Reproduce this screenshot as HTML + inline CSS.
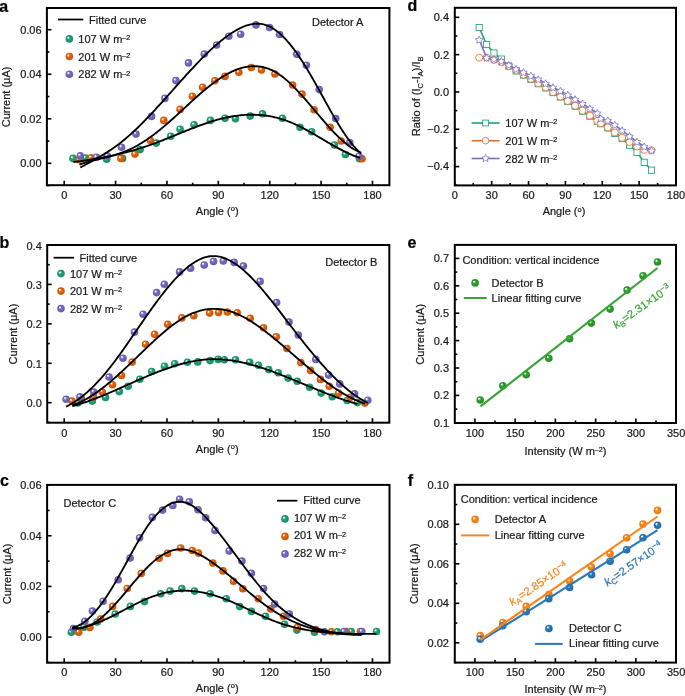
<!DOCTYPE html>
<html><head><meta charset="utf-8"><title>Figure</title>
<style>html,body{margin:0;padding:0;background:#fff;}body{width:685px;height:696px;overflow:hidden;position:relative;font-family:"Liberation Sans", sans-serif;}</style>
</head><body>
<svg width="685" height="696" viewBox="0 0 685 696" style="position:absolute;left:0;top:0;will-change:transform" font-family='"Liberation Sans", sans-serif'><defs><radialGradient id="gG" cx="0.5" cy="0.5" r="0.6" fx="0.33" fy="0.31"><stop offset="0" stop-color="#ffffff"/><stop offset="0.1" stop-color="#ffffff"/><stop offset="0.2" stop-color="#7fd0b2"/><stop offset="0.36" stop-color="#20a074"/><stop offset="1" stop-color="#178a62"/></radialGradient><radialGradient id="gO" cx="0.5" cy="0.5" r="0.6" fx="0.33" fy="0.31"><stop offset="0" stop-color="#ffffff"/><stop offset="0.1" stop-color="#ffffff"/><stop offset="0.2" stop-color="#f2a878"/><stop offset="0.36" stop-color="#e0620e"/><stop offset="1" stop-color="#c85205"/></radialGradient><radialGradient id="gP" cx="0.5" cy="0.5" r="0.6" fx="0.33" fy="0.31"><stop offset="0" stop-color="#ffffff"/><stop offset="0.1" stop-color="#ffffff"/><stop offset="0.2" stop-color="#b6b0e0"/><stop offset="0.36" stop-color="#7469bd"/><stop offset="1" stop-color="#6258ae"/></radialGradient><radialGradient id="gE" cx="0.5" cy="0.5" r="0.6" fx="0.33" fy="0.31"><stop offset="0" stop-color="#ffffff"/><stop offset="0.1" stop-color="#ffffff"/><stop offset="0.2" stop-color="#8fd28f"/><stop offset="0.36" stop-color="#2e9e2e"/><stop offset="1" stop-color="#238a23"/></radialGradient><radialGradient id="gFA" cx="0.5" cy="0.5" r="0.6" fx="0.33" fy="0.31"><stop offset="0" stop-color="#ffffff"/><stop offset="0.1" stop-color="#ffffff"/><stop offset="0.2" stop-color="#fbc088"/><stop offset="0.36" stop-color="#f7861a"/><stop offset="1" stop-color="#e8760c"/></radialGradient><radialGradient id="gFC" cx="0.5" cy="0.5" r="0.6" fx="0.33" fy="0.31"><stop offset="0" stop-color="#ffffff"/><stop offset="0.1" stop-color="#ffffff"/><stop offset="0.2" stop-color="#8fbce0"/><stop offset="0.36" stop-color="#2a78b8"/><stop offset="1" stop-color="#1f68a6"/></radialGradient></defs><rect x="46.90" y="8.00" width="342.50" height="177.20" fill="none" stroke="#000" stroke-width="2"/>
<line x1="64.20" y1="185.20" x2="64.20" y2="180.70" stroke="#000" stroke-width="1.6" />
<line x1="115.58" y1="185.20" x2="115.58" y2="180.70" stroke="#000" stroke-width="1.6" />
<line x1="166.96" y1="185.20" x2="166.96" y2="180.70" stroke="#000" stroke-width="1.6" />
<line x1="218.34" y1="185.20" x2="218.34" y2="180.70" stroke="#000" stroke-width="1.6" />
<line x1="269.72" y1="185.20" x2="269.72" y2="180.70" stroke="#000" stroke-width="1.6" />
<line x1="321.10" y1="185.20" x2="321.10" y2="180.70" stroke="#000" stroke-width="1.6" />
<line x1="372.48" y1="185.20" x2="372.48" y2="180.70" stroke="#000" stroke-width="1.6" />
<line x1="89.89" y1="185.20" x2="89.89" y2="182.70" stroke="#000" stroke-width="1.6" />
<line x1="141.27" y1="185.20" x2="141.27" y2="182.70" stroke="#000" stroke-width="1.6" />
<line x1="192.65" y1="185.20" x2="192.65" y2="182.70" stroke="#000" stroke-width="1.6" />
<line x1="244.03" y1="185.20" x2="244.03" y2="182.70" stroke="#000" stroke-width="1.6" />
<line x1="295.41" y1="185.20" x2="295.41" y2="182.70" stroke="#000" stroke-width="1.6" />
<line x1="346.79" y1="185.20" x2="346.79" y2="182.70" stroke="#000" stroke-width="1.6" />
<text x="64.20" y="199.40" font-size="11" text-anchor="middle" fill="#1a1a1a"  stroke="#1a1a1a" stroke-width="0.22">0</text>
<text x="115.58" y="199.40" font-size="11" text-anchor="middle" fill="#1a1a1a"  stroke="#1a1a1a" stroke-width="0.22">30</text>
<text x="166.96" y="199.40" font-size="11" text-anchor="middle" fill="#1a1a1a"  stroke="#1a1a1a" stroke-width="0.22">60</text>
<text x="218.34" y="199.40" font-size="11" text-anchor="middle" fill="#1a1a1a"  stroke="#1a1a1a" stroke-width="0.22">90</text>
<text x="269.72" y="199.40" font-size="11" text-anchor="middle" fill="#1a1a1a"  stroke="#1a1a1a" stroke-width="0.22">120</text>
<text x="321.10" y="199.40" font-size="11" text-anchor="middle" fill="#1a1a1a"  stroke="#1a1a1a" stroke-width="0.22">150</text>
<text x="372.48" y="199.40" font-size="11" text-anchor="middle" fill="#1a1a1a"  stroke="#1a1a1a" stroke-width="0.22">180</text>
<line x1="46.90" y1="163.30" x2="51.40" y2="163.30" stroke="#000" stroke-width="1.6" />
<line x1="46.90" y1="118.77" x2="51.40" y2="118.77" stroke="#000" stroke-width="1.6" />
<line x1="46.90" y1="74.24" x2="51.40" y2="74.24" stroke="#000" stroke-width="1.6" />
<line x1="46.90" y1="29.71" x2="51.40" y2="29.71" stroke="#000" stroke-width="1.6" />
<line x1="46.90" y1="141.04" x2="49.40" y2="141.04" stroke="#000" stroke-width="1.6" />
<line x1="46.90" y1="96.51" x2="49.40" y2="96.51" stroke="#000" stroke-width="1.6" />
<line x1="46.90" y1="51.98" x2="49.40" y2="51.98" stroke="#000" stroke-width="1.6" />
<line x1="46.90" y1="185.56" x2="49.40" y2="185.56" stroke="#000" stroke-width="1.6" />
<text x="41.60" y="167.20" font-size="11" text-anchor="end" fill="#1a1a1a"  stroke="#1a1a1a" stroke-width="0.22">0.00</text>
<text x="41.60" y="122.67" font-size="11" text-anchor="end" fill="#1a1a1a"  stroke="#1a1a1a" stroke-width="0.22">0.02</text>
<text x="41.60" y="78.14" font-size="11" text-anchor="end" fill="#1a1a1a"  stroke="#1a1a1a" stroke-width="0.22">0.04</text>
<text x="41.60" y="33.61" font-size="11" text-anchor="end" fill="#1a1a1a"  stroke="#1a1a1a" stroke-width="0.22">0.06</text>
<text x="217.20" y="215.20" font-size="11" text-anchor="middle" fill="#1a1a1a"  stroke="#1a1a1a" stroke-width="0.22">Angle (<tspan font-size="7.5" dy="-3.8">o</tspan><tspan dy="3.8">)</tspan></text>
<text x="0" y="0" font-size="11" text-anchor="middle" fill="#1a1a1a" transform="translate(9.90,96.90) rotate(-90)" stroke="#1a1a1a" stroke-width="0.22">Current (μA)</text>
<text x="-0.8" y="11.7" font-size="16" font-weight="bold" fill="#000" stroke="#000" stroke-width="0.22">a</text>
<text x="312.00" y="25.60" font-size="11" text-anchor="start" fill="#1a1a1a"  stroke="#1a1a1a" stroke-width="0.22">Detector A</text>
<line x1="58.00" y1="19.50" x2="83.30" y2="19.50" stroke="#000" stroke-width="1.75" />
<text x="89.00" y="24.20" font-size="11" text-anchor="start" fill="#1a1a1a"  stroke="#1a1a1a" stroke-width="0.22">Fitted curve</text>
<circle cx="69.35" cy="38.90" r="3.8" fill="url(#gG)"/>
<text x="78.30" y="43.00" font-size="11" text-anchor="start" fill="#1a1a1a"  stroke="#1a1a1a" stroke-width="0.22">107 W m<tspan font-size="7.2" dy="-2.7">&#8211;2</tspan></text>
<circle cx="69.35" cy="56.55" r="3.8" fill="url(#gO)"/>
<text x="78.30" y="60.65" font-size="11" text-anchor="start" fill="#1a1a1a"  stroke="#1a1a1a" stroke-width="0.22">201 W m<tspan font-size="7.2" dy="-2.7">&#8211;2</tspan></text>
<circle cx="69.35" cy="74.20" r="3.8" fill="url(#gP)"/>
<text x="78.30" y="78.30" font-size="11" text-anchor="start" fill="#1a1a1a"  stroke="#1a1a1a" stroke-width="0.22">282 W m<tspan font-size="7.2" dy="-2.7">&#8211;2</tspan></text>
<circle cx="73.00" cy="158.40" r="3.8" fill="url(#gG)"/>
<circle cx="85.40" cy="158.00" r="3.8" fill="url(#gG)"/>
<circle cx="106.70" cy="159.20" r="3.8" fill="url(#gG)"/>
<circle cx="122.60" cy="158.40" r="3.8" fill="url(#gG)"/>
<circle cx="140.10" cy="149.60" r="3.8" fill="url(#gG)"/>
<circle cx="156.30" cy="143.10" r="3.8" fill="url(#gG)"/>
<circle cx="170.70" cy="136.20" r="3.8" fill="url(#gG)"/>
<circle cx="180.10" cy="129.20" r="3.8" fill="url(#gG)"/>
<circle cx="194.10" cy="124.80" r="3.8" fill="url(#gG)"/>
<circle cx="210.40" cy="120.40" r="3.8" fill="url(#gG)"/>
<circle cx="225.00" cy="118.20" r="3.8" fill="url(#gG)"/>
<circle cx="235.50" cy="118.70" r="3.8" fill="url(#gG)"/>
<circle cx="250.20" cy="116.10" r="3.8" fill="url(#gG)"/>
<circle cx="262.50" cy="113.80" r="3.8" fill="url(#gG)"/>
<circle cx="282.40" cy="118.20" r="3.8" fill="url(#gG)"/>
<circle cx="300.00" cy="127.30" r="3.8" fill="url(#gG)"/>
<circle cx="311.70" cy="131.70" r="3.8" fill="url(#gG)"/>
<circle cx="334.50" cy="145.10" r="3.8" fill="url(#gG)"/>
<circle cx="345.40" cy="154.50" r="3.8" fill="url(#gG)"/>
<circle cx="359.50" cy="158.70" r="3.8" fill="url(#gG)"/>
<circle cx="78.80" cy="159.70" r="3.8" fill="url(#gO)"/>
<circle cx="91.10" cy="157.80" r="3.8" fill="url(#gO)"/>
<circle cx="120.90" cy="158.40" r="3.8" fill="url(#gO)"/>
<circle cx="134.90" cy="154.10" r="3.8" fill="url(#gO)"/>
<circle cx="150.40" cy="140.60" r="3.8" fill="url(#gO)"/>
<circle cx="163.80" cy="120.40" r="3.8" fill="url(#gO)"/>
<circle cx="180.10" cy="109.40" r="3.8" fill="url(#gO)"/>
<circle cx="192.40" cy="96.30" r="3.8" fill="url(#gO)"/>
<circle cx="202.60" cy="87.20" r="3.8" fill="url(#gO)"/>
<circle cx="214.80" cy="80.80" r="3.8" fill="url(#gO)"/>
<circle cx="225.00" cy="76.40" r="3.8" fill="url(#gO)"/>
<circle cx="238.80" cy="72.30" r="3.8" fill="url(#gO)"/>
<circle cx="251.30" cy="67.50" r="3.8" fill="url(#gO)"/>
<circle cx="261.50" cy="69.90" r="3.8" fill="url(#gO)"/>
<circle cx="274.90" cy="74.00" r="3.8" fill="url(#gO)"/>
<circle cx="292.60" cy="85.00" r="3.8" fill="url(#gO)"/>
<circle cx="302.00" cy="94.10" r="3.8" fill="url(#gO)"/>
<circle cx="314.10" cy="109.80" r="3.8" fill="url(#gO)"/>
<circle cx="330.10" cy="127.30" r="3.8" fill="url(#gO)"/>
<circle cx="341.20" cy="141.00" r="3.8" fill="url(#gO)"/>
<circle cx="362.00" cy="158.80" r="3.8" fill="url(#gO)"/>
<circle cx="80.30" cy="155.90" r="3.8" fill="url(#gP)"/>
<circle cx="96.40" cy="157.30" r="3.8" fill="url(#gP)"/>
<circle cx="107.30" cy="155.70" r="3.8" fill="url(#gP)"/>
<circle cx="121.50" cy="147.30" r="3.8" fill="url(#gP)"/>
<circle cx="136.00" cy="134.10" r="3.8" fill="url(#gP)"/>
<circle cx="151.50" cy="116.40" r="3.8" fill="url(#gP)"/>
<circle cx="164.90" cy="98.40" r="3.8" fill="url(#gP)"/>
<circle cx="175.90" cy="80.60" r="3.8" fill="url(#gP)"/>
<circle cx="188.50" cy="62.90" r="3.8" fill="url(#gP)"/>
<circle cx="204.30" cy="54.10" r="3.8" fill="url(#gP)"/>
<circle cx="216.60" cy="45.00" r="3.8" fill="url(#gP)"/>
<circle cx="228.80" cy="36.30" r="3.8" fill="url(#gP)"/>
<circle cx="240.60" cy="34.20" r="3.8" fill="url(#gP)"/>
<circle cx="256.00" cy="24.90" r="3.8" fill="url(#gP)"/>
<circle cx="269.60" cy="27.50" r="3.8" fill="url(#gP)"/>
<circle cx="279.60" cy="34.50" r="3.8" fill="url(#gP)"/>
<circle cx="296.80" cy="54.30" r="3.8" fill="url(#gP)"/>
<circle cx="306.40" cy="65.20" r="3.8" fill="url(#gP)"/>
<circle cx="319.20" cy="89.60" r="3.8" fill="url(#gP)"/>
<circle cx="335.70" cy="118.50" r="3.8" fill="url(#gP)"/>
<circle cx="349.70" cy="142.50" r="3.8" fill="url(#gP)"/>
<circle cx="359.10" cy="156.30" r="3.8" fill="url(#gP)"/>
<path d="M80.30,167.56 L81.71,166.78 L83.12,166.00 L84.53,165.23 L85.94,164.46 L87.35,163.68 L88.76,162.91 L90.17,162.13 L91.58,161.35 L92.99,160.57 L94.41,159.78 L95.82,158.98 L97.23,158.17 L98.64,157.36 L100.05,156.53 L101.46,155.70 L102.87,154.85 L104.28,153.99 L105.69,153.11 L107.10,152.22 L108.51,151.31 L109.92,150.38 L111.33,149.44 L112.74,148.48 L114.15,147.49 L115.56,146.48 L116.97,145.45 L118.38,144.40 L119.80,143.32 L121.21,142.21 L122.62,141.08 L124.03,139.93 L125.44,138.75 L126.85,137.55 L128.26,136.33 L129.67,135.08 L131.08,133.82 L132.49,132.53 L133.90,131.23 L135.31,129.91 L136.72,128.57 L138.13,127.21 L139.54,125.83 L140.95,124.44 L142.36,123.03 L143.77,121.61 L145.19,120.17 L146.60,118.72 L148.01,117.26 L149.42,115.78 L150.83,114.29 L152.24,112.80 L153.65,111.29 L155.06,109.77 L156.47,108.24 L157.88,106.70 L159.29,105.15 L160.70,103.60 L162.11,102.04 L163.52,100.48 L164.93,98.90 L166.34,97.33 L167.75,95.75 L169.16,94.17 L170.58,92.58 L171.99,90.99 L173.40,89.41 L174.81,87.82 L176.22,86.23 L177.63,84.65 L179.04,83.06 L180.45,81.48 L181.86,79.91 L183.27,78.34 L184.68,76.77 L186.09,75.21 L187.50,73.66 L188.91,72.11 L190.32,70.58 L191.73,69.05 L193.14,67.54 L194.55,66.03 L195.97,64.54 L197.38,63.06 L198.79,61.59 L200.20,60.13 L201.61,58.70 L203.02,57.27 L204.43,55.87 L205.84,54.48 L207.25,53.11 L208.66,51.75 L210.07,50.42 L211.48,49.11 L212.89,47.82 L214.30,46.55 L215.71,45.30 L217.12,44.08 L218.53,42.88 L219.94,41.71 L221.36,40.56 L222.77,39.44 L224.18,38.34 L225.59,37.28 L227.00,36.24 L228.41,35.24 L229.82,34.26 L231.23,33.32 L232.64,32.40 L234.05,31.53 L235.46,30.68 L236.87,29.88 L238.28,29.12 L239.69,28.39 L241.10,27.72 L242.51,27.09 L243.92,26.50 L245.33,25.97 L246.75,25.49 L248.16,25.06 L249.57,24.68 L250.98,24.37 L252.39,24.12 L253.80,23.92 L255.21,23.79 L256.62,23.73 L258.03,23.73 L259.44,23.81 L260.85,23.95 L262.26,24.17 L263.67,24.47 L265.08,24.84 L266.49,25.29 L267.90,25.82 L269.31,26.44 L270.72,27.14 L272.14,27.93 L273.55,28.79 L274.96,29.74 L276.37,30.76 L277.78,31.86 L279.19,33.03 L280.60,34.27 L282.01,35.59 L283.42,36.98 L284.83,38.43 L286.24,39.95 L287.65,41.54 L289.06,43.18 L290.47,44.89 L291.88,46.66 L293.29,48.49 L294.70,50.38 L296.11,52.32 L297.53,54.31 L298.94,56.36 L300.35,58.45 L301.76,60.59 L303.17,62.79 L304.58,65.02 L305.99,67.30 L307.40,69.62 L308.81,71.99 L310.22,74.38 L311.63,76.81 L313.04,79.27 L314.45,81.76 L315.86,84.26 L317.27,86.79 L318.68,89.32 L320.09,91.87 L321.50,94.43 L322.92,96.98 L324.33,99.54 L325.74,102.09 L327.15,104.63 L328.56,107.16 L329.97,109.68 L331.38,112.17 L332.79,114.64 L334.20,117.08 L335.61,119.50 L337.02,121.88 L338.43,124.21 L339.84,126.51 L341.25,128.76 L342.66,130.97 L344.07,133.11 L345.48,135.21 L346.89,137.24 L348.31,139.20 L349.72,141.10 L351.13,142.93 L352.54,144.68 L353.95,146.35 L355.36,147.93 L356.77,149.43 L358.18,150.84 L359.59,152.16 L361.00,153.38" fill="none" stroke="#000" stroke-width="1.85" stroke-linejoin="round" stroke-linecap="butt"/>
<path d="M79.40,164.66 L80.82,164.16 L82.23,163.68 L83.65,163.22 L85.06,162.77 L86.48,162.35 L87.89,161.94 L89.31,161.54 L90.72,161.15 L92.14,160.78 L93.55,160.41 L94.97,160.05 L96.38,159.70 L97.80,159.35 L99.21,159.01 L100.63,158.67 L102.04,158.32 L103.46,157.98 L104.87,157.63 L106.29,157.28 L107.70,156.92 L109.12,156.56 L110.53,156.18 L111.95,155.80 L113.36,155.40 L114.78,154.99 L116.19,154.56 L117.61,154.12 L119.02,153.66 L120.44,153.18 L121.85,152.68 L123.27,152.15 L124.68,151.61 L126.10,151.03 L127.51,150.43 L128.93,149.80 L130.34,149.15 L131.76,148.46 L133.17,147.75 L134.59,147.01 L136.00,146.25 L137.42,145.45 L138.83,144.64 L140.25,143.80 L141.66,142.93 L143.08,142.04 L144.49,141.13 L145.91,140.19 L147.32,139.23 L148.74,138.25 L150.15,137.25 L151.57,136.23 L152.98,135.18 L154.40,134.12 L155.81,133.04 L157.23,131.94 L158.64,130.81 L160.06,129.67 L161.47,128.52 L162.89,127.34 L164.30,126.15 L165.72,124.95 L167.13,123.72 L168.55,122.49 L169.96,121.24 L171.38,119.99 L172.79,118.72 L174.21,117.44 L175.63,116.16 L177.04,114.87 L178.46,113.58 L179.87,112.28 L181.29,110.97 L182.70,109.67 L184.12,108.36 L185.53,107.06 L186.95,105.75 L188.36,104.45 L189.78,103.15 L191.19,101.86 L192.61,100.57 L194.02,99.29 L195.44,98.02 L196.85,96.76 L198.27,95.50 L199.68,94.26 L201.10,93.03 L202.51,91.82 L203.93,90.62 L205.34,89.44 L206.76,88.27 L208.17,87.12 L209.59,85.99 L211.00,84.88 L212.42,83.79 L213.83,82.73 L215.25,81.69 L216.66,80.67 L218.08,79.68 L219.49,78.72 L220.91,77.78 L222.32,76.88 L223.74,76.00 L225.15,75.16 L226.57,74.35 L227.98,73.57 L229.40,72.83 L230.81,72.12 L232.23,71.45 L233.64,70.82 L235.06,70.22 L236.47,69.66 L237.89,69.14 L239.30,68.66 L240.72,68.22 L242.13,67.83 L243.55,67.47 L244.96,67.15 L246.38,66.88 L247.79,66.66 L249.21,66.47 L250.62,66.33 L252.04,66.24 L253.45,66.20 L254.87,66.20 L256.28,66.25 L257.70,66.35 L259.11,66.50 L260.53,66.70 L261.94,66.95 L263.36,67.25 L264.77,67.61 L266.19,68.01 L267.61,68.48 L269.02,68.99 L270.44,69.56 L271.85,70.19 L273.27,70.87 L274.68,71.62 L276.10,72.42 L277.51,73.28 L278.93,74.19 L280.34,75.17 L281.76,76.20 L283.17,77.28 L284.59,78.42 L286.00,79.60 L287.42,80.83 L288.83,82.10 L290.25,83.41 L291.66,84.77 L293.08,86.16 L294.49,87.58 L295.91,89.04 L297.32,90.53 L298.74,92.04 L300.15,93.59 L301.57,95.15 L302.98,96.74 L304.40,98.35 L305.81,99.97 L307.23,101.61 L308.64,103.26 L310.06,104.92 L311.47,106.59 L312.89,108.27 L314.30,109.94 L315.72,111.62 L317.13,113.30 L318.55,114.98 L319.96,116.65 L321.38,118.31 L322.79,119.96 L324.21,121.60 L325.62,123.22 L327.04,124.83 L328.45,126.42 L329.87,127.99 L331.28,129.53 L332.70,131.05 L334.11,132.54 L335.53,134.01 L336.94,135.43 L338.36,136.83 L339.77,138.18 L341.19,139.50 L342.60,140.78 L344.02,142.01 L345.43,143.20 L346.85,144.33 L348.26,145.42 L349.68,146.46 L351.09,147.44 L352.51,148.36 L353.92,149.22 L355.34,150.03 L356.75,150.77 L358.17,151.44 L359.58,152.04 L361.00,152.57" fill="none" stroke="#000" stroke-width="1.85" stroke-linejoin="round" stroke-linecap="butt"/>
<path d="M73.30,162.04 L74.74,161.87 L76.18,161.70 L77.62,161.53 L79.06,161.35 L80.51,161.16 L81.95,160.97 L83.39,160.78 L84.83,160.58 L86.27,160.37 L87.71,160.16 L89.15,159.94 L90.59,159.72 L92.04,159.49 L93.48,159.26 L94.92,159.02 L96.36,158.77 L97.80,158.52 L99.24,158.26 L100.68,158.00 L102.12,157.73 L103.57,157.45 L105.01,157.17 L106.45,156.88 L107.89,156.59 L109.33,156.29 L110.77,155.98 L112.21,155.67 L113.65,155.35 L115.09,155.02 L116.54,154.69 L117.98,154.35 L119.42,154.01 L120.86,153.65 L122.30,153.29 L123.74,152.93 L125.18,152.56 L126.62,152.18 L128.07,151.79 L129.51,151.39 L130.95,150.99 L132.39,150.59 L133.83,150.17 L135.27,149.75 L136.71,149.32 L138.15,148.88 L139.60,148.43 L141.04,147.98 L142.48,147.52 L143.92,147.05 L145.36,146.58 L146.80,146.10 L148.24,145.61 L149.68,145.11 L151.13,144.60 L152.57,144.09 L154.01,143.56 L155.45,143.03 L156.89,142.50 L158.33,141.95 L159.77,141.40 L161.21,140.85 L162.65,140.28 L164.10,139.72 L165.54,139.14 L166.98,138.57 L168.42,137.99 L169.86,137.41 L171.30,136.82 L172.74,136.23 L174.18,135.64 L175.63,135.06 L177.07,134.47 L178.51,133.87 L179.95,133.29 L181.39,132.70 L182.83,132.11 L184.27,131.52 L185.71,130.94 L187.16,130.36 L188.60,129.78 L190.04,129.21 L191.48,128.64 L192.92,128.08 L194.36,127.52 L195.80,126.97 L197.24,126.42 L198.68,125.88 L200.13,125.35 L201.57,124.82 L203.01,124.31 L204.45,123.80 L205.89,123.30 L207.33,122.82 L208.77,122.34 L210.21,121.87 L211.66,121.42 L213.10,120.97 L214.54,120.54 L215.98,120.12 L217.42,119.71 L218.86,119.32 L220.30,118.95 L221.74,118.58 L223.19,118.23 L224.63,117.90 L226.07,117.58 L227.51,117.28 L228.95,116.99 L230.39,116.72 L231.83,116.47 L233.27,116.23 L234.72,116.01 L236.16,115.80 L237.60,115.61 L239.04,115.44 L240.48,115.29 L241.92,115.15 L243.36,115.03 L244.80,114.93 L246.24,114.85 L247.69,114.79 L249.13,114.74 L250.57,114.71 L252.01,114.71 L253.45,114.72 L254.89,114.75 L256.33,114.80 L257.77,114.87 L259.22,114.96 L260.66,115.07 L262.10,115.20 L263.54,115.35 L264.98,115.52 L266.42,115.72 L267.86,115.93 L269.30,116.17 L270.75,116.42 L272.19,116.70 L273.63,117.01 L275.07,117.33 L276.51,117.68 L277.95,118.04 L279.39,118.44 L280.83,118.85 L282.27,119.29 L283.72,119.75 L285.16,120.24 L286.60,120.75 L288.04,121.28 L289.48,121.84 L290.92,122.42 L292.36,123.02 L293.80,123.65 L295.25,124.30 L296.69,124.97 L298.13,125.66 L299.57,126.37 L301.01,127.10 L302.45,127.84 L303.89,128.60 L305.33,129.37 L306.78,130.15 L308.22,130.95 L309.66,131.75 L311.10,132.57 L312.54,133.39 L313.98,134.22 L315.42,135.06 L316.86,135.90 L318.31,136.75 L319.75,137.60 L321.19,138.45 L322.63,139.30 L324.07,140.15 L325.51,141.00 L326.95,141.84 L328.39,142.68 L329.83,143.52 L331.28,144.35 L332.72,145.17 L334.16,145.99 L335.60,146.79 L337.04,147.59 L338.48,148.37 L339.92,149.14 L341.36,149.90 L342.81,150.64 L344.25,151.36 L345.69,152.07 L347.13,152.76 L348.57,153.43 L350.01,154.08 L351.45,154.71 L352.89,155.31 L354.34,155.89 L355.78,156.45 L357.22,156.98 L358.66,157.48 L360.10,157.96" fill="none" stroke="#000" stroke-width="1.85" stroke-linejoin="round" stroke-linecap="butt"/>
<rect x="47.20" y="245.00" width="342.10" height="177.70" fill="none" stroke="#000" stroke-width="2"/>
<line x1="64.20" y1="422.70" x2="64.20" y2="418.20" stroke="#000" stroke-width="1.6" />
<line x1="115.58" y1="422.70" x2="115.58" y2="418.20" stroke="#000" stroke-width="1.6" />
<line x1="166.96" y1="422.70" x2="166.96" y2="418.20" stroke="#000" stroke-width="1.6" />
<line x1="218.34" y1="422.70" x2="218.34" y2="418.20" stroke="#000" stroke-width="1.6" />
<line x1="269.72" y1="422.70" x2="269.72" y2="418.20" stroke="#000" stroke-width="1.6" />
<line x1="321.10" y1="422.70" x2="321.10" y2="418.20" stroke="#000" stroke-width="1.6" />
<line x1="372.48" y1="422.70" x2="372.48" y2="418.20" stroke="#000" stroke-width="1.6" />
<line x1="89.89" y1="422.70" x2="89.89" y2="420.20" stroke="#000" stroke-width="1.6" />
<line x1="141.27" y1="422.70" x2="141.27" y2="420.20" stroke="#000" stroke-width="1.6" />
<line x1="192.65" y1="422.70" x2="192.65" y2="420.20" stroke="#000" stroke-width="1.6" />
<line x1="244.03" y1="422.70" x2="244.03" y2="420.20" stroke="#000" stroke-width="1.6" />
<line x1="295.41" y1="422.70" x2="295.41" y2="420.20" stroke="#000" stroke-width="1.6" />
<line x1="346.79" y1="422.70" x2="346.79" y2="420.20" stroke="#000" stroke-width="1.6" />
<text x="64.20" y="437.20" font-size="11" text-anchor="middle" fill="#1a1a1a"  stroke="#1a1a1a" stroke-width="0.22">0</text>
<text x="115.58" y="437.20" font-size="11" text-anchor="middle" fill="#1a1a1a"  stroke="#1a1a1a" stroke-width="0.22">30</text>
<text x="166.96" y="437.20" font-size="11" text-anchor="middle" fill="#1a1a1a"  stroke="#1a1a1a" stroke-width="0.22">60</text>
<text x="218.34" y="437.20" font-size="11" text-anchor="middle" fill="#1a1a1a"  stroke="#1a1a1a" stroke-width="0.22">90</text>
<text x="269.72" y="437.20" font-size="11" text-anchor="middle" fill="#1a1a1a"  stroke="#1a1a1a" stroke-width="0.22">120</text>
<text x="321.10" y="437.20" font-size="11" text-anchor="middle" fill="#1a1a1a"  stroke="#1a1a1a" stroke-width="0.22">150</text>
<text x="372.48" y="437.20" font-size="11" text-anchor="middle" fill="#1a1a1a"  stroke="#1a1a1a" stroke-width="0.22">180</text>
<line x1="47.20" y1="402.70" x2="51.70" y2="402.70" stroke="#000" stroke-width="1.6" />
<line x1="47.20" y1="363.27" x2="51.70" y2="363.27" stroke="#000" stroke-width="1.6" />
<line x1="47.20" y1="323.84" x2="51.70" y2="323.84" stroke="#000" stroke-width="1.6" />
<line x1="47.20" y1="284.41" x2="51.70" y2="284.41" stroke="#000" stroke-width="1.6" />
<line x1="47.20" y1="244.98" x2="51.70" y2="244.98" stroke="#000" stroke-width="1.6" />
<line x1="47.20" y1="382.99" x2="49.70" y2="382.99" stroke="#000" stroke-width="1.6" />
<line x1="47.20" y1="343.56" x2="49.70" y2="343.56" stroke="#000" stroke-width="1.6" />
<line x1="47.20" y1="304.12" x2="49.70" y2="304.12" stroke="#000" stroke-width="1.6" />
<line x1="47.20" y1="264.69" x2="49.70" y2="264.69" stroke="#000" stroke-width="1.6" />
<line x1="47.20" y1="422.41" x2="49.70" y2="422.41" stroke="#000" stroke-width="1.6" />
<text x="41.80" y="407.30" font-size="11" text-anchor="end" fill="#1a1a1a"  stroke="#1a1a1a" stroke-width="0.22">0.0</text>
<text x="41.80" y="367.87" font-size="11" text-anchor="end" fill="#1a1a1a"  stroke="#1a1a1a" stroke-width="0.22">0.1</text>
<text x="41.80" y="328.44" font-size="11" text-anchor="end" fill="#1a1a1a"  stroke="#1a1a1a" stroke-width="0.22">0.2</text>
<text x="41.80" y="289.01" font-size="11" text-anchor="end" fill="#1a1a1a"  stroke="#1a1a1a" stroke-width="0.22">0.3</text>
<text x="41.80" y="249.58" font-size="11" text-anchor="end" fill="#1a1a1a"  stroke="#1a1a1a" stroke-width="0.22">0.4</text>
<text x="217.20" y="453.00" font-size="11" text-anchor="middle" fill="#1a1a1a"  stroke="#1a1a1a" stroke-width="0.22">Angle (<tspan font-size="7.5" dy="-3.8">o</tspan><tspan dy="3.8">)</tspan></text>
<text x="0" y="0" font-size="11" text-anchor="middle" fill="#1a1a1a" transform="translate(16.70,334.00) rotate(-90)" stroke="#1a1a1a" stroke-width="0.22">Current (μA)</text>
<text x="-0.6" y="248.2" font-size="16" font-weight="bold" fill="#000" stroke="#000" stroke-width="0.22">b</text>
<text x="325.30" y="265.70" font-size="11" text-anchor="start" fill="#1a1a1a"  stroke="#1a1a1a" stroke-width="0.22">Detector B</text>
<line x1="53.60" y1="257.70" x2="74.10" y2="257.70" stroke="#000" stroke-width="1.75" />
<text x="79.60" y="261.60" font-size="11" text-anchor="start" fill="#1a1a1a"  stroke="#1a1a1a" stroke-width="0.22">Fitted curve</text>
<circle cx="61.00" cy="273.60" r="3.8" fill="url(#gG)"/>
<text x="69.90" y="277.60" font-size="11" text-anchor="start" fill="#1a1a1a"  stroke="#1a1a1a" stroke-width="0.22">107 W m<tspan font-size="7.2" dy="-2.7">&#8211;2</tspan></text>
<circle cx="61.00" cy="291.10" r="3.8" fill="url(#gO)"/>
<text x="69.90" y="295.10" font-size="11" text-anchor="start" fill="#1a1a1a"  stroke="#1a1a1a" stroke-width="0.22">201 W m<tspan font-size="7.2" dy="-2.7">&#8211;2</tspan></text>
<circle cx="61.00" cy="308.60" r="3.8" fill="url(#gP)"/>
<text x="69.90" y="312.60" font-size="11" text-anchor="start" fill="#1a1a1a"  stroke="#1a1a1a" stroke-width="0.22">282 W m<tspan font-size="7.2" dy="-2.7">&#8211;2</tspan></text>
<circle cx="77.70" cy="403.00" r="3.8" fill="url(#gG)"/>
<circle cx="92.30" cy="401.10" r="3.8" fill="url(#gG)"/>
<circle cx="105.50" cy="397.40" r="3.8" fill="url(#gG)"/>
<circle cx="119.30" cy="391.60" r="3.8" fill="url(#gG)"/>
<circle cx="128.10" cy="386.20" r="3.8" fill="url(#gG)"/>
<circle cx="139.80" cy="379.20" r="3.8" fill="url(#gG)"/>
<circle cx="151.70" cy="371.50" r="3.8" fill="url(#gG)"/>
<circle cx="164.50" cy="366.40" r="3.8" fill="url(#gG)"/>
<circle cx="174.70" cy="363.80" r="3.8" fill="url(#gG)"/>
<circle cx="187.40" cy="362.30" r="3.8" fill="url(#gG)"/>
<circle cx="197.70" cy="361.90" r="3.8" fill="url(#gG)"/>
<circle cx="210.10" cy="360.60" r="3.8" fill="url(#gG)"/>
<circle cx="218.10" cy="359.40" r="3.8" fill="url(#gG)"/>
<circle cx="224.40" cy="359.70" r="3.8" fill="url(#gG)"/>
<circle cx="235.50" cy="359.70" r="3.8" fill="url(#gG)"/>
<circle cx="249.70" cy="362.30" r="3.8" fill="url(#gG)"/>
<circle cx="258.50" cy="365.30" r="3.8" fill="url(#gG)"/>
<circle cx="268.70" cy="369.60" r="3.8" fill="url(#gG)"/>
<circle cx="278.20" cy="372.80" r="3.8" fill="url(#gG)"/>
<circle cx="288.10" cy="378.10" r="3.8" fill="url(#gG)"/>
<circle cx="297.20" cy="381.30" r="3.8" fill="url(#gG)"/>
<circle cx="309.60" cy="387.20" r="3.8" fill="url(#gG)"/>
<circle cx="321.20" cy="393.10" r="3.8" fill="url(#gG)"/>
<circle cx="332.20" cy="396.70" r="3.8" fill="url(#gG)"/>
<circle cx="347.10" cy="400.50" r="3.8" fill="url(#gG)"/>
<circle cx="357.30" cy="402.60" r="3.8" fill="url(#gG)"/>
<circle cx="71.90" cy="401.10" r="3.8" fill="url(#gO)"/>
<circle cx="81.40" cy="398.30" r="3.8" fill="url(#gO)"/>
<circle cx="93.40" cy="396.90" r="3.8" fill="url(#gO)"/>
<circle cx="102.30" cy="392.00" r="3.8" fill="url(#gO)"/>
<circle cx="112.50" cy="384.70" r="3.8" fill="url(#gO)"/>
<circle cx="121.50" cy="375.50" r="3.8" fill="url(#gO)"/>
<circle cx="132.20" cy="362.10" r="3.8" fill="url(#gO)"/>
<circle cx="145.60" cy="344.20" r="3.8" fill="url(#gO)"/>
<circle cx="154.60" cy="334.30" r="3.8" fill="url(#gO)"/>
<circle cx="167.70" cy="324.30" r="3.8" fill="url(#gO)"/>
<circle cx="181.80" cy="317.90" r="3.8" fill="url(#gO)"/>
<circle cx="193.80" cy="315.70" r="3.8" fill="url(#gO)"/>
<circle cx="209.60" cy="313.10" r="3.8" fill="url(#gO)"/>
<circle cx="218.60" cy="312.50" r="3.8" fill="url(#gO)"/>
<circle cx="227.40" cy="312.00" r="3.8" fill="url(#gO)"/>
<circle cx="237.20" cy="312.80" r="3.8" fill="url(#gO)"/>
<circle cx="250.20" cy="318.30" r="3.8" fill="url(#gO)"/>
<circle cx="263.50" cy="327.70" r="3.8" fill="url(#gO)"/>
<circle cx="276.30" cy="336.80" r="3.8" fill="url(#gO)"/>
<circle cx="286.90" cy="348.50" r="3.8" fill="url(#gO)"/>
<circle cx="300.80" cy="362.60" r="3.8" fill="url(#gO)"/>
<circle cx="310.60" cy="370.40" r="3.8" fill="url(#gO)"/>
<circle cx="320.50" cy="379.40" r="3.8" fill="url(#gO)"/>
<circle cx="329.30" cy="386.20" r="3.8" fill="url(#gO)"/>
<circle cx="338.60" cy="393.20" r="3.8" fill="url(#gO)"/>
<circle cx="350.30" cy="397.30" r="3.8" fill="url(#gO)"/>
<circle cx="364.90" cy="403.10" r="3.8" fill="url(#gO)"/>
<circle cx="66.10" cy="399.30" r="3.8" fill="url(#gP)"/>
<circle cx="79.90" cy="396.90" r="3.8" fill="url(#gP)"/>
<circle cx="93.80" cy="392.00" r="3.8" fill="url(#gP)"/>
<circle cx="109.10" cy="377.00" r="3.8" fill="url(#gP)"/>
<circle cx="123.00" cy="358.20" r="3.8" fill="url(#gP)"/>
<circle cx="134.50" cy="332.10" r="3.8" fill="url(#gP)"/>
<circle cx="143.10" cy="314.20" r="3.8" fill="url(#gP)"/>
<circle cx="156.60" cy="292.60" r="3.8" fill="url(#gP)"/>
<circle cx="164.30" cy="284.30" r="3.8" fill="url(#gP)"/>
<circle cx="179.60" cy="271.90" r="3.8" fill="url(#gP)"/>
<circle cx="190.60" cy="268.20" r="3.8" fill="url(#gP)"/>
<circle cx="204.20" cy="265.00" r="3.8" fill="url(#gP)"/>
<circle cx="213.50" cy="261.40" r="3.8" fill="url(#gP)"/>
<circle cx="223.30" cy="261.00" r="3.8" fill="url(#gP)"/>
<circle cx="234.20" cy="262.40" r="3.8" fill="url(#gP)"/>
<circle cx="243.40" cy="266.10" r="3.8" fill="url(#gP)"/>
<circle cx="260.10" cy="281.40" r="3.8" fill="url(#gP)"/>
<circle cx="276.60" cy="302.60" r="3.8" fill="url(#gP)"/>
<circle cx="289.00" cy="322.00" r="3.8" fill="url(#gP)"/>
<circle cx="298.30" cy="335.00" r="3.8" fill="url(#gP)"/>
<circle cx="315.80" cy="359.40" r="3.8" fill="url(#gP)"/>
<circle cx="328.70" cy="375.10" r="3.8" fill="url(#gP)"/>
<circle cx="339.80" cy="383.90" r="3.8" fill="url(#gP)"/>
<circle cx="354.60" cy="393.80" r="3.8" fill="url(#gP)"/>
<circle cx="367.80" cy="400.20" r="3.8" fill="url(#gP)"/>
<path d="M66.10,406.55 L67.62,405.83 L69.13,405.06 L70.65,404.24 L72.16,403.37 L73.68,402.45 L75.20,401.48 L76.71,400.47 L78.23,399.41 L79.74,398.30 L81.26,397.14 L82.78,395.94 L84.29,394.70 L85.81,393.41 L87.33,392.08 L88.84,390.71 L90.36,389.29 L91.87,387.84 L93.39,386.34 L94.91,384.80 L96.42,383.23 L97.94,381.61 L99.45,379.96 L100.97,378.27 L102.49,376.54 L104.00,374.78 L105.52,372.98 L107.03,371.14 L108.55,369.28 L110.07,367.38 L111.58,365.44 L113.10,363.47 L114.61,361.48 L116.13,359.45 L117.65,357.40 L119.16,355.32 L120.68,353.22 L122.19,351.10 L123.71,348.96 L125.23,346.80 L126.74,344.63 L128.26,342.45 L129.78,340.26 L131.29,338.06 L132.81,335.85 L134.32,333.64 L135.84,331.43 L137.36,329.22 L138.87,327.01 L140.39,324.81 L141.90,322.61 L143.42,320.42 L144.94,318.23 L146.45,316.06 L147.97,313.90 L149.48,311.75 L151.00,309.62 L152.52,307.50 L154.03,305.40 L155.55,303.33 L157.06,301.27 L158.58,299.24 L160.10,297.24 L161.61,295.26 L163.13,293.31 L164.65,291.39 L166.16,289.50 L167.68,287.65 L169.19,285.83 L170.71,284.05 L172.23,282.31 L173.74,280.61 L175.26,278.95 L176.77,277.34 L178.29,275.77 L179.81,274.24 L181.32,272.77 L182.84,271.35 L184.35,269.97 L185.87,268.66 L187.39,267.40 L188.90,266.19 L190.42,265.04 L191.93,263.96 L193.45,262.94 L194.97,261.98 L196.48,261.08 L198.00,260.26 L199.52,259.50 L201.03,258.81 L202.55,258.20 L204.06,257.66 L205.58,257.19 L207.10,256.80 L208.61,256.49 L210.13,256.26 L211.64,256.12 L213.16,256.06 L214.68,256.08 L216.19,256.18 L217.71,256.37 L219.22,256.63 L220.74,256.97 L222.26,257.38 L223.77,257.87 L225.29,258.44 L226.80,259.07 L228.32,259.77 L229.84,260.53 L231.35,261.36 L232.87,262.26 L234.38,263.21 L235.90,264.23 L237.42,265.30 L238.93,266.43 L240.45,267.61 L241.97,268.85 L243.48,270.13 L245.00,271.47 L246.51,272.85 L248.03,274.28 L249.55,275.75 L251.06,277.26 L252.58,278.81 L254.09,280.41 L255.61,282.03 L257.13,283.70 L258.64,285.39 L260.16,287.12 L261.67,288.88 L263.19,290.67 L264.71,292.48 L266.22,294.31 L267.74,296.17 L269.25,298.05 L270.77,299.95 L272.29,301.87 L273.80,303.80 L275.32,305.74 L276.84,307.70 L278.35,309.67 L279.87,311.64 L281.38,313.63 L282.90,315.62 L284.42,317.61 L285.93,319.60 L287.45,321.59 L288.96,323.58 L290.48,325.57 L292.00,327.55 L293.51,329.53 L295.03,331.49 L296.54,333.45 L298.06,335.40 L299.58,337.34 L301.09,339.27 L302.61,341.19 L304.12,343.10 L305.64,344.99 L307.16,346.87 L308.67,348.74 L310.19,350.59 L311.71,352.43 L313.22,354.25 L314.74,356.06 L316.25,357.84 L317.77,359.61 L319.29,361.36 L320.80,363.09 L322.32,364.80 L323.83,366.48 L325.35,368.15 L326.87,369.79 L328.38,371.41 L329.90,373.00 L331.41,374.57 L332.93,376.12 L334.45,377.64 L335.96,379.13 L337.48,380.59 L338.99,382.03 L340.51,383.43 L342.03,384.81 L343.54,386.15 L345.06,387.47 L346.57,388.75 L348.09,390.00 L349.61,391.21 L351.12,392.39 L352.64,393.54 L354.16,394.65 L355.67,395.72 L357.19,396.76 L358.70,397.76 L360.22,398.72 L361.74,399.64 L363.25,400.52 L364.77,401.36 L366.28,402.16 L367.80,402.92" fill="none" stroke="#000" stroke-width="1.85" stroke-linejoin="round" stroke-linecap="butt"/>
<path d="M72.30,405.21 L73.77,404.73 L75.24,404.21 L76.71,403.65 L78.18,403.05 L79.65,402.41 L81.13,401.73 L82.60,401.01 L84.07,400.26 L85.54,399.47 L87.01,398.65 L88.48,397.79 L89.95,396.90 L91.42,395.98 L92.89,395.03 L94.36,394.05 L95.83,393.04 L97.30,392.01 L98.78,390.94 L100.25,389.86 L101.72,388.74 L103.19,387.60 L104.66,386.44 L106.13,385.26 L107.60,384.06 L109.07,382.83 L110.54,381.59 L112.01,380.33 L113.48,379.05 L114.95,377.76 L116.43,376.45 L117.90,375.13 L119.37,373.79 L120.84,372.44 L122.31,371.08 L123.78,369.71 L125.25,368.33 L126.72,366.94 L128.19,365.55 L129.66,364.14 L131.13,362.74 L132.61,361.32 L134.08,359.91 L135.55,358.49 L137.02,357.07 L138.49,355.65 L139.96,354.23 L141.43,352.81 L142.90,351.39 L144.37,349.98 L145.84,348.57 L147.31,347.17 L148.78,345.77 L150.26,344.38 L151.73,343.00 L153.20,341.63 L154.67,340.27 L156.14,338.92 L157.61,337.59 L159.08,336.27 L160.55,334.97 L162.02,333.69 L163.49,332.43 L164.96,331.19 L166.43,329.97 L167.91,328.77 L169.38,327.59 L170.85,326.45 L172.32,325.33 L173.79,324.23 L175.26,323.17 L176.73,322.14 L178.20,321.14 L179.67,320.17 L181.14,319.23 L182.61,318.34 L184.08,317.47 L185.56,316.65 L187.03,315.87 L188.50,315.12 L189.97,314.42 L191.44,313.76 L192.91,313.14 L194.38,312.56 L195.85,312.03 L197.32,311.53 L198.79,311.08 L200.26,310.67 L201.74,310.29 L203.21,309.97 L204.68,309.68 L206.15,309.43 L207.62,309.23 L209.09,309.07 L210.56,308.95 L212.03,308.87 L213.50,308.83 L214.97,308.84 L216.44,308.89 L217.91,308.98 L219.39,309.11 L220.86,309.28 L222.33,309.50 L223.80,309.76 L225.27,310.06 L226.74,310.41 L228.21,310.79 L229.68,311.22 L231.15,311.68 L232.62,312.19 L234.09,312.73 L235.56,313.31 L237.04,313.92 L238.51,314.57 L239.98,315.26 L241.45,315.97 L242.92,316.72 L244.39,317.50 L245.86,318.31 L247.33,319.15 L248.80,320.01 L250.27,320.91 L251.74,321.83 L253.22,322.77 L254.69,323.74 L256.16,324.74 L257.63,325.75 L259.10,326.79 L260.57,327.85 L262.04,328.92 L263.51,330.02 L264.98,331.13 L266.45,332.26 L267.92,333.41 L269.39,334.57 L270.87,335.75 L272.34,336.94 L273.81,338.14 L275.28,339.35 L276.75,340.57 L278.22,341.80 L279.69,343.04 L281.16,344.29 L282.63,345.54 L284.10,346.80 L285.57,348.07 L287.04,349.33 L288.52,350.60 L289.99,351.88 L291.46,353.15 L292.93,354.42 L294.40,355.70 L295.87,356.97 L297.34,358.25 L298.81,359.52 L300.28,360.79 L301.75,362.05 L303.22,363.32 L304.69,364.57 L306.17,365.83 L307.64,367.07 L309.11,368.31 L310.58,369.54 L312.05,370.76 L313.52,371.98 L314.99,373.18 L316.46,374.38 L317.93,375.56 L319.40,376.74 L320.87,377.90 L322.35,379.04 L323.82,380.18 L325.29,381.29 L326.76,382.40 L328.23,383.49 L329.70,384.56 L331.17,385.61 L332.64,386.65 L334.11,387.67 L335.58,388.67 L337.05,389.64 L338.52,390.60 L340.00,391.54 L341.47,392.45 L342.94,393.34 L344.41,394.21 L345.88,395.06 L347.35,395.88 L348.82,396.67 L350.29,397.44 L351.76,398.18 L353.23,398.89 L354.70,399.58 L356.17,400.23 L357.65,400.86 L359.12,401.46 L360.59,402.02 L362.06,402.55 L363.53,403.05 L365.00,403.52" fill="none" stroke="#000" stroke-width="1.85" stroke-linejoin="round" stroke-linecap="butt"/>
<path d="M72.30,406.22 L73.73,405.83 L75.17,405.42 L76.60,405.00 L78.03,404.57 L79.47,404.13 L80.90,403.68 L82.33,403.22 L83.77,402.74 L85.20,402.25 L86.63,401.76 L88.06,401.25 L89.50,400.74 L90.93,400.21 L92.36,399.68 L93.80,399.14 L95.23,398.59 L96.66,398.03 L98.10,397.47 L99.53,396.90 L100.96,396.32 L102.40,395.74 L103.83,395.14 L105.26,394.55 L106.70,393.95 L108.13,393.34 L109.56,392.73 L111.00,392.12 L112.43,391.50 L113.86,390.87 L115.29,390.25 L116.73,389.62 L118.16,388.99 L119.59,388.35 L121.03,387.72 L122.46,387.08 L123.89,386.45 L125.33,385.81 L126.76,385.17 L128.19,384.53 L129.63,383.89 L131.06,383.25 L132.49,382.61 L133.93,381.98 L135.36,381.34 L136.79,380.71 L138.23,380.08 L139.66,379.46 L141.09,378.83 L142.53,378.21 L143.96,377.59 L145.39,376.98 L146.82,376.37 L148.26,375.77 L149.69,375.17 L151.12,374.58 L152.56,373.99 L153.99,373.41 L155.42,372.83 L156.86,372.27 L158.29,371.71 L159.72,371.15 L161.16,370.61 L162.59,370.07 L164.02,369.54 L165.46,369.02 L166.89,368.51 L168.32,368.01 L169.76,367.52 L171.19,367.04 L172.62,366.57 L174.05,366.12 L175.49,365.67 L176.92,365.23 L178.35,364.81 L179.79,364.40 L181.22,364.00 L182.65,363.62 L184.09,363.25 L185.52,362.89 L186.95,362.54 L188.39,362.22 L189.82,361.90 L191.25,361.60 L192.69,361.32 L194.12,361.05 L195.55,360.80 L196.99,360.57 L198.42,360.35 L199.85,360.15 L201.28,359.97 L202.72,359.80 L204.15,359.65 L205.58,359.53 L207.02,359.42 L208.45,359.33 L209.88,359.26 L211.32,359.21 L212.75,359.18 L214.18,359.17 L215.62,359.18 L217.05,359.21 L218.48,359.25 L219.92,359.32 L221.35,359.40 L222.78,359.50 L224.22,359.62 L225.65,359.75 L227.08,359.90 L228.52,360.07 L229.95,360.26 L231.38,360.45 L232.81,360.67 L234.25,360.90 L235.68,361.15 L237.11,361.41 L238.55,361.68 L239.98,361.97 L241.41,362.27 L242.85,362.59 L244.28,362.91 L245.71,363.25 L247.15,363.61 L248.58,363.97 L250.01,364.35 L251.45,364.74 L252.88,365.14 L254.31,365.55 L255.75,365.97 L257.18,366.40 L258.61,366.85 L260.04,367.30 L261.48,367.76 L262.91,368.23 L264.34,368.71 L265.78,369.20 L267.21,369.69 L268.64,370.19 L270.08,370.71 L271.51,371.22 L272.94,371.75 L274.38,372.28 L275.81,372.82 L277.24,373.36 L278.68,373.91 L280.11,374.47 L281.54,375.03 L282.98,375.59 L284.41,376.16 L285.84,376.74 L287.27,377.31 L288.71,377.89 L290.14,378.48 L291.57,379.06 L293.01,379.65 L294.44,380.25 L295.87,380.84 L297.31,381.44 L298.74,382.03 L300.17,382.63 L301.61,383.23 L303.04,383.83 L304.47,384.43 L305.91,385.03 L307.34,385.63 L308.77,386.23 L310.21,386.83 L311.64,387.42 L313.07,388.02 L314.51,388.61 L315.94,389.20 L317.37,389.79 L318.80,390.37 L320.24,390.95 L321.67,391.53 L323.10,392.10 L324.54,392.67 L325.97,393.24 L327.40,393.80 L328.84,394.36 L330.27,394.91 L331.70,395.45 L333.14,395.99 L334.57,396.52 L336.00,397.05 L337.44,397.57 L338.87,398.08 L340.30,398.58 L341.74,399.08 L343.17,399.57 L344.60,400.05 L346.03,400.52 L347.47,400.98 L348.90,401.44 L350.33,401.88 L351.77,402.31 L353.20,402.74 L354.63,403.15 L356.07,403.55 L357.50,403.94" fill="none" stroke="#000" stroke-width="1.85" stroke-linejoin="round" stroke-linecap="butt"/>
<rect x="47.10" y="484.90" width="342.40" height="177.80" fill="none" stroke="#000" stroke-width="2"/>
<line x1="64.20" y1="662.70" x2="64.20" y2="658.20" stroke="#000" stroke-width="1.6" />
<line x1="115.58" y1="662.70" x2="115.58" y2="658.20" stroke="#000" stroke-width="1.6" />
<line x1="166.96" y1="662.70" x2="166.96" y2="658.20" stroke="#000" stroke-width="1.6" />
<line x1="218.34" y1="662.70" x2="218.34" y2="658.20" stroke="#000" stroke-width="1.6" />
<line x1="269.72" y1="662.70" x2="269.72" y2="658.20" stroke="#000" stroke-width="1.6" />
<line x1="321.10" y1="662.70" x2="321.10" y2="658.20" stroke="#000" stroke-width="1.6" />
<line x1="372.48" y1="662.70" x2="372.48" y2="658.20" stroke="#000" stroke-width="1.6" />
<line x1="89.89" y1="662.70" x2="89.89" y2="660.20" stroke="#000" stroke-width="1.6" />
<line x1="141.27" y1="662.70" x2="141.27" y2="660.20" stroke="#000" stroke-width="1.6" />
<line x1="192.65" y1="662.70" x2="192.65" y2="660.20" stroke="#000" stroke-width="1.6" />
<line x1="244.03" y1="662.70" x2="244.03" y2="660.20" stroke="#000" stroke-width="1.6" />
<line x1="295.41" y1="662.70" x2="295.41" y2="660.20" stroke="#000" stroke-width="1.6" />
<line x1="346.79" y1="662.70" x2="346.79" y2="660.20" stroke="#000" stroke-width="1.6" />
<text x="64.20" y="675.90" font-size="11" text-anchor="middle" fill="#1a1a1a"  stroke="#1a1a1a" stroke-width="0.22">0</text>
<text x="115.58" y="675.90" font-size="11" text-anchor="middle" fill="#1a1a1a"  stroke="#1a1a1a" stroke-width="0.22">30</text>
<text x="166.96" y="675.90" font-size="11" text-anchor="middle" fill="#1a1a1a"  stroke="#1a1a1a" stroke-width="0.22">60</text>
<text x="218.34" y="675.90" font-size="11" text-anchor="middle" fill="#1a1a1a"  stroke="#1a1a1a" stroke-width="0.22">90</text>
<text x="269.72" y="675.90" font-size="11" text-anchor="middle" fill="#1a1a1a"  stroke="#1a1a1a" stroke-width="0.22">120</text>
<text x="321.10" y="675.90" font-size="11" text-anchor="middle" fill="#1a1a1a"  stroke="#1a1a1a" stroke-width="0.22">150</text>
<text x="372.48" y="675.90" font-size="11" text-anchor="middle" fill="#1a1a1a"  stroke="#1a1a1a" stroke-width="0.22">180</text>
<line x1="47.10" y1="637.10" x2="51.60" y2="637.10" stroke="#000" stroke-width="1.6" />
<line x1="47.10" y1="586.43" x2="51.60" y2="586.43" stroke="#000" stroke-width="1.6" />
<line x1="47.10" y1="535.76" x2="51.60" y2="535.76" stroke="#000" stroke-width="1.6" />
<line x1="47.10" y1="485.09" x2="51.60" y2="485.09" stroke="#000" stroke-width="1.6" />
<line x1="47.10" y1="611.76" x2="49.60" y2="611.76" stroke="#000" stroke-width="1.6" />
<line x1="47.10" y1="561.10" x2="49.60" y2="561.10" stroke="#000" stroke-width="1.6" />
<line x1="47.10" y1="510.43" x2="49.60" y2="510.43" stroke="#000" stroke-width="1.6" />
<line x1="47.10" y1="662.44" x2="49.60" y2="662.44" stroke="#000" stroke-width="1.6" />
<text x="41.60" y="641.00" font-size="11" text-anchor="end" fill="#1a1a1a"  stroke="#1a1a1a" stroke-width="0.22">0.00</text>
<text x="41.60" y="590.33" font-size="11" text-anchor="end" fill="#1a1a1a"  stroke="#1a1a1a" stroke-width="0.22">0.02</text>
<text x="41.60" y="539.66" font-size="11" text-anchor="end" fill="#1a1a1a"  stroke="#1a1a1a" stroke-width="0.22">0.04</text>
<text x="41.60" y="488.99" font-size="11" text-anchor="end" fill="#1a1a1a"  stroke="#1a1a1a" stroke-width="0.22">0.06</text>
<text x="217.20" y="692.00" font-size="11" text-anchor="middle" fill="#1a1a1a"  stroke="#1a1a1a" stroke-width="0.22">Angle (<tspan font-size="7.5" dy="-3.8">o</tspan><tspan dy="3.8">)</tspan></text>
<text x="0" y="0" font-size="11" text-anchor="middle" fill="#1a1a1a" transform="translate(10.60,573.90) rotate(-90)" stroke="#1a1a1a" stroke-width="0.22">Current (μA)</text>
<text x="0" y="485.7" font-size="16" font-weight="bold" fill="#000" stroke="#000" stroke-width="0.22">c</text>
<text x="63.50" y="506.80" font-size="11" text-anchor="start" fill="#1a1a1a"  stroke="#1a1a1a" stroke-width="0.22">Detector C</text>
<line x1="277.00" y1="500.70" x2="297.40" y2="500.70" stroke="#000" stroke-width="1.75" />
<text x="303.20" y="503.90" font-size="11" text-anchor="start" fill="#1a1a1a"  stroke="#1a1a1a" stroke-width="0.22">Fitted curve</text>
<circle cx="285.00" cy="518.90" r="3.8" fill="url(#gG)"/>
<text x="293.90" y="521.90" font-size="11" text-anchor="start" fill="#1a1a1a"  stroke="#1a1a1a" stroke-width="0.22">107 W m<tspan font-size="7.2" dy="-2.7">&#8211;2</tspan></text>
<circle cx="285.00" cy="536.40" r="3.8" fill="url(#gO)"/>
<text x="293.90" y="539.40" font-size="11" text-anchor="start" fill="#1a1a1a"  stroke="#1a1a1a" stroke-width="0.22">201 W m<tspan font-size="7.2" dy="-2.7">&#8211;2</tspan></text>
<circle cx="285.00" cy="553.90" r="3.8" fill="url(#gP)"/>
<text x="293.90" y="556.90" font-size="11" text-anchor="start" fill="#1a1a1a"  stroke="#1a1a1a" stroke-width="0.22">282 W m<tspan font-size="7.2" dy="-2.7">&#8211;2</tspan></text>
<circle cx="71.40" cy="632.30" r="3.8" fill="url(#gG)"/>
<circle cx="84.10" cy="627.20" r="3.8" fill="url(#gG)"/>
<circle cx="97.20" cy="622.00" r="3.8" fill="url(#gG)"/>
<circle cx="115.20" cy="614.00" r="3.8" fill="url(#gG)"/>
<circle cx="130.40" cy="606.40" r="3.8" fill="url(#gG)"/>
<circle cx="144.40" cy="601.60" r="3.8" fill="url(#gG)"/>
<circle cx="160.80" cy="593.80" r="3.8" fill="url(#gG)"/>
<circle cx="170.10" cy="591.10" r="3.8" fill="url(#gG)"/>
<circle cx="181.80" cy="588.60" r="3.8" fill="url(#gG)"/>
<circle cx="194.50" cy="591.10" r="3.8" fill="url(#gG)"/>
<circle cx="210.10" cy="593.70" r="3.8" fill="url(#gG)"/>
<circle cx="226.20" cy="598.70" r="3.8" fill="url(#gG)"/>
<circle cx="239.70" cy="606.60" r="3.8" fill="url(#gG)"/>
<circle cx="251.40" cy="611.40" r="3.8" fill="url(#gG)"/>
<circle cx="265.50" cy="616.20" r="3.8" fill="url(#gG)"/>
<circle cx="284.50" cy="624.20" r="3.8" fill="url(#gG)"/>
<circle cx="296.90" cy="630.10" r="3.8" fill="url(#gG)"/>
<circle cx="314.50" cy="632.20" r="3.8" fill="url(#gG)"/>
<circle cx="337.40" cy="631.80" r="3.8" fill="url(#gG)"/>
<circle cx="351.20" cy="631.50" r="3.8" fill="url(#gG)"/>
<circle cx="376.50" cy="631.50" r="3.8" fill="url(#gG)"/>
<circle cx="78.70" cy="632.30" r="3.8" fill="url(#gO)"/>
<circle cx="89.90" cy="627.40" r="3.8" fill="url(#gO)"/>
<circle cx="100.60" cy="619.10" r="3.8" fill="url(#gO)"/>
<circle cx="112.60" cy="606.40" r="3.8" fill="url(#gO)"/>
<circle cx="127.20" cy="588.50" r="3.8" fill="url(#gO)"/>
<circle cx="141.30" cy="573.40" r="3.8" fill="url(#gO)"/>
<circle cx="159.10" cy="558.20" r="3.8" fill="url(#gO)"/>
<circle cx="167.50" cy="553.40" r="3.8" fill="url(#gO)"/>
<circle cx="180.60" cy="548.00" r="3.8" fill="url(#gO)"/>
<circle cx="192.30" cy="550.50" r="3.8" fill="url(#gO)"/>
<circle cx="198.50" cy="553.10" r="3.8" fill="url(#gO)"/>
<circle cx="212.80" cy="563.10" r="3.8" fill="url(#gO)"/>
<circle cx="223.00" cy="570.90" r="3.8" fill="url(#gO)"/>
<circle cx="233.50" cy="581.20" r="3.8" fill="url(#gO)"/>
<circle cx="242.90" cy="588.70" r="3.8" fill="url(#gO)"/>
<circle cx="258.20" cy="598.70" r="3.8" fill="url(#gO)"/>
<circle cx="270.70" cy="608.90" r="3.8" fill="url(#gO)"/>
<circle cx="283.50" cy="616.20" r="3.8" fill="url(#gO)"/>
<circle cx="297.40" cy="627.40" r="3.8" fill="url(#gO)"/>
<circle cx="315.70" cy="629.50" r="3.8" fill="url(#gO)"/>
<circle cx="331.50" cy="631.80" r="3.8" fill="url(#gO)"/>
<circle cx="346.00" cy="631.50" r="3.8" fill="url(#gO)"/>
<circle cx="360.40" cy="631.50" r="3.8" fill="url(#gO)"/>
<circle cx="73.40" cy="628.60" r="3.8" fill="url(#gP)"/>
<circle cx="84.80" cy="621.30" r="3.8" fill="url(#gP)"/>
<circle cx="92.40" cy="611.10" r="3.8" fill="url(#gP)"/>
<circle cx="103.10" cy="601.20" r="3.8" fill="url(#gP)"/>
<circle cx="118.20" cy="579.80" r="3.8" fill="url(#gP)"/>
<circle cx="130.10" cy="558.00" r="3.8" fill="url(#gP)"/>
<circle cx="139.60" cy="537.80" r="3.8" fill="url(#gP)"/>
<circle cx="152.30" cy="517.40" r="3.8" fill="url(#gP)"/>
<circle cx="162.60" cy="510.10" r="3.8" fill="url(#gP)"/>
<circle cx="172.80" cy="505.40" r="3.8" fill="url(#gP)"/>
<circle cx="179.60" cy="499.20" r="3.8" fill="url(#gP)"/>
<circle cx="189.30" cy="501.80" r="3.8" fill="url(#gP)"/>
<circle cx="198.00" cy="509.80" r="3.8" fill="url(#gP)"/>
<circle cx="205.70" cy="517.70" r="3.8" fill="url(#gP)"/>
<circle cx="215.00" cy="530.40" r="3.8" fill="url(#gP)"/>
<circle cx="229.20" cy="550.90" r="3.8" fill="url(#gP)"/>
<circle cx="241.90" cy="561.00" r="3.8" fill="url(#gP)"/>
<circle cx="251.40" cy="573.20" r="3.8" fill="url(#gP)"/>
<circle cx="263.60" cy="588.50" r="3.8" fill="url(#gP)"/>
<circle cx="274.70" cy="604.10" r="3.8" fill="url(#gP)"/>
<circle cx="289.30" cy="614.00" r="3.8" fill="url(#gP)"/>
<circle cx="324.40" cy="631.80" r="3.8" fill="url(#gP)"/>
<circle cx="344.00" cy="631.50" r="3.8" fill="url(#gP)"/>
<circle cx="361.80" cy="631.50" r="3.8" fill="url(#gP)"/>
<path d="M72.00,627.52 L73.45,627.26 L74.91,626.89 L76.36,626.42 L77.82,625.84 L79.27,625.16 L80.73,624.38 L82.18,623.51 L83.63,622.54 L85.09,621.48 L86.54,620.33 L88.00,619.09 L89.45,617.76 L90.91,616.35 L92.36,614.86 L93.81,613.29 L95.27,611.65 L96.72,609.93 L98.18,608.14 L99.63,606.28 L101.09,604.36 L102.54,602.37 L103.99,600.31 L105.45,598.20 L106.90,596.03 L108.36,593.80 L109.81,591.52 L111.27,589.19 L112.72,586.81 L114.17,584.38 L115.63,581.91 L117.08,579.40 L118.54,576.85 L119.99,574.26 L121.45,571.65 L122.90,569.01 L124.35,566.35 L125.81,563.69 L127.26,561.01 L128.72,558.34 L130.17,555.67 L131.63,553.01 L133.08,550.36 L134.53,547.74 L135.99,545.15 L137.44,542.59 L138.90,540.07 L140.35,537.59 L141.81,535.17 L143.26,532.80 L144.71,530.49 L146.17,528.25 L147.62,526.08 L149.08,524.00 L150.53,521.99 L151.98,520.08 L153.44,518.25 L154.89,516.52 L156.35,514.87 L157.80,513.32 L159.26,511.86 L160.71,510.50 L162.16,509.23 L163.62,508.05 L165.07,506.98 L166.53,506.00 L167.98,505.12 L169.44,504.34 L170.89,503.66 L172.34,503.08 L173.80,502.60 L175.25,502.23 L176.71,501.96 L178.16,501.80 L179.62,501.74 L181.07,501.79 L182.52,501.95 L183.98,502.22 L185.43,502.59 L186.89,503.08 L188.34,503.67 L189.80,504.36 L191.25,505.15 L192.70,506.03 L194.16,507.00 L195.61,508.05 L197.07,509.19 L198.52,510.39 L199.98,511.67 L201.43,513.02 L202.88,514.43 L204.34,515.90 L205.79,517.42 L207.25,518.99 L208.70,520.61 L210.16,522.27 L211.61,523.96 L213.06,525.69 L214.52,527.45 L215.97,529.23 L217.43,531.04 L218.88,532.87 L220.34,534.72 L221.79,536.59 L223.24,538.48 L224.70,540.39 L226.15,542.30 L227.61,544.23 L229.06,546.17 L230.52,548.12 L231.97,550.08 L233.42,552.04 L234.88,554.00 L236.33,555.97 L237.79,557.93 L239.24,559.90 L240.70,561.86 L242.15,563.81 L243.60,565.76 L245.06,567.70 L246.51,569.63 L247.97,571.55 L249.42,573.46 L250.88,575.34 L252.33,577.22 L253.78,579.07 L255.24,580.90 L256.69,582.71 L258.15,584.50 L259.60,586.26 L261.06,587.99 L262.51,589.69 L263.96,591.37 L265.42,593.01 L266.87,594.61 L268.33,596.18 L269.78,597.71 L271.24,599.21 L272.69,600.66 L274.14,602.07 L275.60,603.44 L277.05,604.77 L278.51,606.07 L279.96,607.32 L281.42,608.54 L282.87,609.73 L284.32,610.87 L285.78,611.98 L287.23,613.06 L288.69,614.10 L290.14,615.11 L291.59,616.08 L293.05,617.02 L294.50,617.93 L295.96,618.81 L297.41,619.66 L298.87,620.47 L300.32,621.26 L301.77,622.02 L303.23,622.74 L304.68,623.44 L306.14,624.12 L307.59,624.76 L309.05,625.38 L310.50,625.97 L311.95,626.54 L313.41,627.08 L314.86,627.60 L316.32,628.10 L317.77,628.57 L319.23,629.02 L320.68,629.45 L322.13,629.85 L323.59,630.24 L325.04,630.60 L326.50,630.95 L327.95,631.28 L329.41,631.58 L330.86,631.87 L332.31,632.15 L333.77,632.40 L335.22,632.64 L336.68,632.87 L338.13,633.08 L339.59,633.27 L341.04,633.45 L342.49,633.62 L343.95,633.77 L345.40,633.92 L346.86,634.05 L348.31,634.17 L349.77,634.28 L351.22,634.37 L352.67,634.46 L354.13,634.55 L355.58,634.62 L357.04,634.68 L358.49,634.74 L359.95,634.79 L361.40,634.84" fill="none" stroke="#000" stroke-width="1.85" stroke-linejoin="round" stroke-linecap="butt"/>
<path d="M72.00,627.88 L73.45,628.18 L74.91,628.37 L76.36,628.48 L77.82,628.49 L79.27,628.41 L80.73,628.24 L82.18,627.99 L83.63,627.65 L85.09,627.23 L86.54,626.74 L88.00,626.16 L89.45,625.51 L90.91,624.79 L92.36,624.00 L93.81,623.15 L95.27,622.22 L96.72,621.24 L98.18,620.19 L99.63,619.09 L101.09,617.92 L102.54,616.71 L103.99,615.44 L105.45,614.13 L106.90,612.77 L108.36,611.36 L109.81,609.91 L111.27,608.42 L112.72,606.90 L114.17,605.33 L115.63,603.74 L117.08,602.11 L118.54,600.46 L119.99,598.78 L121.45,597.09 L122.90,595.38 L124.35,593.65 L125.81,591.91 L127.26,590.17 L128.72,588.43 L130.17,586.68 L131.63,584.94 L133.08,583.21 L134.53,581.49 L135.99,579.78 L137.44,578.09 L138.90,576.42 L140.35,574.77 L141.81,573.15 L143.26,571.57 L144.71,570.02 L146.17,568.50 L147.62,567.03 L149.08,565.60 L150.53,564.22 L151.98,562.90 L153.44,561.62 L154.89,560.40 L156.35,559.23 L157.80,558.12 L159.26,557.06 L160.71,556.07 L162.16,555.14 L163.62,554.27 L165.07,553.46 L166.53,552.73 L167.98,552.05 L169.44,551.45 L170.89,550.92 L172.34,550.46 L173.80,550.08 L175.25,549.77 L176.71,549.54 L178.16,549.38 L179.62,549.30 L181.07,549.30 L182.52,549.36 L183.98,549.49 L185.43,549.69 L186.89,549.95 L188.34,550.28 L189.80,550.66 L191.25,551.10 L192.70,551.59 L194.16,552.14 L195.61,552.74 L197.07,553.38 L198.52,554.07 L199.98,554.80 L201.43,555.58 L202.88,556.39 L204.34,557.23 L205.79,558.12 L207.25,559.03 L208.70,559.97 L210.16,560.94 L211.61,561.94 L213.06,562.96 L214.52,564.00 L215.97,565.06 L217.43,566.14 L218.88,567.24 L220.34,568.36 L221.79,569.49 L223.24,570.64 L224.70,571.81 L226.15,572.99 L227.61,574.17 L229.06,575.37 L230.52,576.58 L231.97,577.80 L233.42,579.02 L234.88,580.25 L236.33,581.48 L237.79,582.72 L239.24,583.96 L240.70,585.20 L242.15,586.44 L243.60,587.68 L245.06,588.91 L246.51,590.15 L247.97,591.37 L249.42,592.59 L250.88,593.80 L252.33,595.01 L253.78,596.20 L255.24,597.39 L256.69,598.56 L258.15,599.72 L259.60,600.86 L261.06,601.99 L262.51,603.10 L263.96,604.19 L265.42,605.26 L266.87,606.31 L268.33,607.34 L269.78,608.35 L271.24,609.33 L272.69,610.30 L274.14,611.23 L275.60,612.15 L277.05,613.04 L278.51,613.92 L279.96,614.76 L281.42,615.59 L282.87,616.40 L284.32,617.19 L285.78,617.95 L287.23,618.69 L288.69,619.42 L290.14,620.12 L291.59,620.80 L293.05,621.47 L294.50,622.11 L295.96,622.74 L297.41,623.34 L298.87,623.93 L300.32,624.50 L301.77,625.04 L303.23,625.58 L304.68,626.09 L306.14,626.59 L307.59,627.06 L309.05,627.52 L310.50,627.97 L311.95,628.40 L313.41,628.81 L314.86,629.20 L316.32,629.58 L317.77,629.94 L319.23,630.29 L320.68,630.62 L322.13,630.94 L323.59,631.24 L325.04,631.52 L326.50,631.80 L327.95,632.05 L329.41,632.30 L330.86,632.53 L332.31,632.74 L333.77,632.95 L335.22,633.14 L336.68,633.31 L338.13,633.48 L339.59,633.63 L341.04,633.77 L342.49,633.90 L343.95,634.01 L345.40,634.12 L346.86,634.21 L348.31,634.29 L349.77,634.36 L351.22,634.42 L352.67,634.47 L354.13,634.51 L355.58,634.54 L357.04,634.56 L358.49,634.58 L359.95,634.58 L361.40,634.57" fill="none" stroke="#000" stroke-width="1.85" stroke-linejoin="round" stroke-linecap="butt"/>
<path d="M72.00,628.61 L73.53,628.55 L75.06,628.44 L76.59,628.29 L78.12,628.10 L79.65,627.88 L81.17,627.61 L82.70,627.31 L84.23,626.97 L85.76,626.60 L87.29,626.19 L88.82,625.76 L90.35,625.29 L91.88,624.79 L93.41,624.27 L94.94,623.72 L96.47,623.15 L98.00,622.55 L99.52,621.93 L101.05,621.29 L102.58,620.63 L104.11,619.95 L105.64,619.25 L107.17,618.54 L108.70,617.81 L110.23,617.07 L111.76,616.32 L113.29,615.56 L114.82,614.78 L116.35,614.01 L117.87,613.22 L119.40,612.43 L120.93,611.63 L122.46,610.83 L123.99,610.04 L125.52,609.24 L127.05,608.44 L128.58,607.64 L130.11,606.85 L131.64,606.06 L133.17,605.29 L134.69,604.51 L136.22,603.75 L137.75,603.00 L139.28,602.26 L140.81,601.53 L142.34,600.82 L143.87,600.12 L145.40,599.44 L146.93,598.78 L148.46,598.13 L149.99,597.51 L151.52,596.91 L153.04,596.34 L154.57,595.79 L156.10,595.26 L157.63,594.77 L159.16,594.30 L160.69,593.86 L162.22,593.45 L163.75,593.07 L165.28,592.72 L166.81,592.40 L168.34,592.11 L169.87,591.84 L171.39,591.60 L172.92,591.39 L174.45,591.21 L175.98,591.06 L177.51,590.93 L179.04,590.83 L180.57,590.76 L182.10,590.71 L183.63,590.69 L185.16,590.69 L186.69,590.72 L188.22,590.77 L189.74,590.85 L191.27,590.96 L192.80,591.09 L194.33,591.24 L195.86,591.42 L197.39,591.62 L198.92,591.84 L200.45,592.09 L201.98,592.36 L203.51,592.66 L205.04,592.97 L206.56,593.31 L208.09,593.67 L209.62,594.05 L211.15,594.46 L212.68,594.88 L214.21,595.33 L215.74,595.80 L217.27,596.28 L218.80,596.79 L220.33,597.32 L221.86,597.87 L223.39,598.43 L224.91,599.02 L226.44,599.62 L227.97,600.24 L229.50,600.87 L231.03,601.52 L232.56,602.18 L234.09,602.85 L235.62,603.53 L237.15,604.22 L238.68,604.92 L240.21,605.63 L241.74,606.34 L243.26,607.06 L244.79,607.78 L246.32,608.51 L247.85,609.24 L249.38,609.97 L250.91,610.70 L252.44,611.43 L253.97,612.15 L255.50,612.87 L257.03,613.59 L258.56,614.31 L260.08,615.01 L261.61,615.71 L263.14,616.40 L264.67,617.08 L266.20,617.75 L267.73,618.41 L269.26,619.06 L270.79,619.69 L272.32,620.30 L273.85,620.90 L275.38,621.49 L276.91,622.05 L278.43,622.60 L279.96,623.13 L281.49,623.64 L283.02,624.14 L284.55,624.62 L286.08,625.09 L287.61,625.54 L289.14,625.97 L290.67,626.39 L292.20,626.80 L293.73,627.19 L295.26,627.56 L296.78,627.92 L298.31,628.27 L299.84,628.60 L301.37,628.92 L302.90,629.23 L304.43,629.53 L305.96,629.81 L307.49,630.08 L309.02,630.34 L310.55,630.58 L312.08,630.82 L313.61,631.04 L315.13,631.26 L316.66,631.46 L318.19,631.65 L319.72,631.83 L321.25,632.00 L322.78,632.17 L324.31,632.32 L325.84,632.46 L327.37,632.60 L328.90,632.73 L330.43,632.84 L331.95,632.95 L333.48,633.06 L335.01,633.15 L336.54,633.24 L338.07,633.32 L339.60,633.40 L341.13,633.47 L342.66,633.53 L344.19,633.59 L345.72,633.64 L347.25,633.69 L348.78,633.73 L350.30,633.76 L351.83,633.80 L353.36,633.82 L354.89,633.85 L356.42,633.87 L357.95,633.88 L359.48,633.90 L361.01,633.91 L362.54,633.92 L364.07,633.92 L365.60,633.93 L367.13,633.93 L368.65,633.93 L370.18,633.93 L371.71,633.93 L373.24,633.93 L374.77,633.92 L376.30,633.92" fill="none" stroke="#000" stroke-width="1.85" stroke-linejoin="round" stroke-linecap="butt"/>
<rect x="454.80" y="7.80" width="221.20" height="177.60" fill="none" stroke="#000" stroke-width="2"/>
<line x1="454.80" y1="185.40" x2="454.80" y2="180.90" stroke="#000" stroke-width="1.6" />
<line x1="491.67" y1="185.40" x2="491.67" y2="180.90" stroke="#000" stroke-width="1.6" />
<line x1="528.54" y1="185.40" x2="528.54" y2="180.90" stroke="#000" stroke-width="1.6" />
<line x1="565.41" y1="185.40" x2="565.41" y2="180.90" stroke="#000" stroke-width="1.6" />
<line x1="602.28" y1="185.40" x2="602.28" y2="180.90" stroke="#000" stroke-width="1.6" />
<line x1="639.15" y1="185.40" x2="639.15" y2="180.90" stroke="#000" stroke-width="1.6" />
<line x1="676.02" y1="185.40" x2="676.02" y2="180.90" stroke="#000" stroke-width="1.6" />
<line x1="473.24" y1="185.40" x2="473.24" y2="182.90" stroke="#000" stroke-width="1.6" />
<line x1="510.11" y1="185.40" x2="510.11" y2="182.90" stroke="#000" stroke-width="1.6" />
<line x1="546.98" y1="185.40" x2="546.98" y2="182.90" stroke="#000" stroke-width="1.6" />
<line x1="583.85" y1="185.40" x2="583.85" y2="182.90" stroke="#000" stroke-width="1.6" />
<line x1="620.72" y1="185.40" x2="620.72" y2="182.90" stroke="#000" stroke-width="1.6" />
<line x1="657.59" y1="185.40" x2="657.59" y2="182.90" stroke="#000" stroke-width="1.6" />
<text x="454.80" y="199.40" font-size="11" text-anchor="middle" fill="#1a1a1a"  stroke="#1a1a1a" stroke-width="0.22">0</text>
<text x="491.67" y="199.40" font-size="11" text-anchor="middle" fill="#1a1a1a"  stroke="#1a1a1a" stroke-width="0.22">30</text>
<text x="528.54" y="199.40" font-size="11" text-anchor="middle" fill="#1a1a1a"  stroke="#1a1a1a" stroke-width="0.22">60</text>
<text x="565.41" y="199.40" font-size="11" text-anchor="middle" fill="#1a1a1a"  stroke="#1a1a1a" stroke-width="0.22">90</text>
<text x="602.28" y="199.40" font-size="11" text-anchor="middle" fill="#1a1a1a"  stroke="#1a1a1a" stroke-width="0.22">120</text>
<text x="639.15" y="199.40" font-size="11" text-anchor="middle" fill="#1a1a1a"  stroke="#1a1a1a" stroke-width="0.22">150</text>
<text x="676.02" y="199.40" font-size="11" text-anchor="middle" fill="#1a1a1a"  stroke="#1a1a1a" stroke-width="0.22">180</text>
<line x1="454.80" y1="17.31" x2="459.30" y2="17.31" stroke="#000" stroke-width="1.6" />
<line x1="454.80" y1="54.63" x2="459.30" y2="54.63" stroke="#000" stroke-width="1.6" />
<line x1="454.80" y1="91.95" x2="459.30" y2="91.95" stroke="#000" stroke-width="1.6" />
<line x1="454.80" y1="129.27" x2="459.30" y2="129.27" stroke="#000" stroke-width="1.6" />
<line x1="454.80" y1="166.59" x2="459.30" y2="166.59" stroke="#000" stroke-width="1.6" />
<line x1="454.80" y1="35.97" x2="457.30" y2="35.97" stroke="#000" stroke-width="1.6" />
<line x1="454.80" y1="73.29" x2="457.30" y2="73.29" stroke="#000" stroke-width="1.6" />
<line x1="454.80" y1="110.61" x2="457.30" y2="110.61" stroke="#000" stroke-width="1.6" />
<line x1="454.80" y1="147.93" x2="457.30" y2="147.93" stroke="#000" stroke-width="1.6" />
<line x1="454.80" y1="185.25" x2="457.30" y2="185.25" stroke="#000" stroke-width="1.6" />
<text x="449.00" y="21.21" font-size="11" text-anchor="end" fill="#1a1a1a"  stroke="#1a1a1a" stroke-width="0.22">0.4</text>
<text x="449.00" y="58.53" font-size="11" text-anchor="end" fill="#1a1a1a"  stroke="#1a1a1a" stroke-width="0.22">0.2</text>
<text x="449.00" y="95.85" font-size="11" text-anchor="end" fill="#1a1a1a"  stroke="#1a1a1a" stroke-width="0.22">0.0</text>
<text x="449.00" y="133.17" font-size="11" text-anchor="end" fill="#1a1a1a"  stroke="#1a1a1a" stroke-width="0.22">&#8722;0.2</text>
<text x="449.00" y="170.49" font-size="11" text-anchor="end" fill="#1a1a1a"  stroke="#1a1a1a" stroke-width="0.22">&#8722;0.4</text>
<text x="564.00" y="215.40" font-size="11" text-anchor="middle" fill="#1a1a1a"  stroke="#1a1a1a" stroke-width="0.22">Angle (<tspan font-size="7.5" dy="-3.8">o</tspan><tspan dy="3.8">)</tspan></text>
<text x="0" y="0" font-size="11" text-anchor="middle" fill="#1a1a1a" transform="translate(420.2,96.3) rotate(-90)" stroke="#1a1a1a" stroke-width="0.22">Ratio of (I<tspan font-size="7.5" dy="2.4">C</tspan><tspan dy="-2.4">-I</tspan><tspan font-size="7.5" dy="2.4">A</tspan><tspan dy="-2.4">)/I</tspan><tspan font-size="7.5" dy="2.4">B</tspan></text>
<text x="407.6" y="11.2" font-size="16" font-weight="bold" fill="#000" stroke="#000" stroke-width="0.22">d</text>
<path d="M479.20,27.50 L486.58,44.50 L493.96,53.00 L501.34,59.10 L508.72,66.00 L516.10,70.90 L523.48,75.00 L530.86,79.30 L538.24,83.70 L545.62,87.90 L553.00,92.60 L560.38,97.00 L567.76,101.50 L575.14,106.20 L582.52,111.10 L589.90,116.10 L597.28,121.40 L600.80,123.70 L607.80,128.00 L614.80,133.40 L622.10,138.60 L629.50,145.30 L637.00,152.40 L644.20,162.30 L651.50,170.20" fill="none" stroke="#21a073" stroke-width="1.6"/>
<rect x="476.10" y="24.40" width="6.2" height="6.2" fill="#fff" stroke="#21a073" stroke-width="0.85"/>
<rect x="483.48" y="41.40" width="6.2" height="6.2" fill="#fff" stroke="#21a073" stroke-width="0.85"/>
<rect x="490.86" y="49.90" width="6.2" height="6.2" fill="#fff" stroke="#21a073" stroke-width="0.85"/>
<rect x="498.24" y="56.00" width="6.2" height="6.2" fill="#fff" stroke="#21a073" stroke-width="0.85"/>
<rect x="505.62" y="62.90" width="6.2" height="6.2" fill="#fff" stroke="#21a073" stroke-width="0.85"/>
<rect x="513.00" y="67.80" width="6.2" height="6.2" fill="#fff" stroke="#21a073" stroke-width="0.85"/>
<rect x="520.38" y="71.90" width="6.2" height="6.2" fill="#fff" stroke="#21a073" stroke-width="0.85"/>
<rect x="527.76" y="76.20" width="6.2" height="6.2" fill="#fff" stroke="#21a073" stroke-width="0.85"/>
<rect x="535.14" y="80.60" width="6.2" height="6.2" fill="#fff" stroke="#21a073" stroke-width="0.85"/>
<rect x="542.52" y="84.80" width="6.2" height="6.2" fill="#fff" stroke="#21a073" stroke-width="0.85"/>
<rect x="549.90" y="89.50" width="6.2" height="6.2" fill="#fff" stroke="#21a073" stroke-width="0.85"/>
<rect x="557.28" y="93.90" width="6.2" height="6.2" fill="#fff" stroke="#21a073" stroke-width="0.85"/>
<rect x="564.66" y="98.40" width="6.2" height="6.2" fill="#fff" stroke="#21a073" stroke-width="0.85"/>
<rect x="572.04" y="103.10" width="6.2" height="6.2" fill="#fff" stroke="#21a073" stroke-width="0.85"/>
<rect x="579.42" y="108.00" width="6.2" height="6.2" fill="#fff" stroke="#21a073" stroke-width="0.85"/>
<rect x="586.80" y="113.00" width="6.2" height="6.2" fill="#fff" stroke="#21a073" stroke-width="0.85"/>
<rect x="594.18" y="118.30" width="6.2" height="6.2" fill="#fff" stroke="#21a073" stroke-width="0.85"/>
<rect x="597.70" y="120.60" width="6.2" height="6.2" fill="#fff" stroke="#21a073" stroke-width="0.85"/>
<rect x="604.70" y="124.90" width="6.2" height="6.2" fill="#fff" stroke="#21a073" stroke-width="0.85"/>
<rect x="611.70" y="130.30" width="6.2" height="6.2" fill="#fff" stroke="#21a073" stroke-width="0.85"/>
<rect x="619.00" y="135.50" width="6.2" height="6.2" fill="#fff" stroke="#21a073" stroke-width="0.85"/>
<rect x="626.40" y="142.20" width="6.2" height="6.2" fill="#fff" stroke="#21a073" stroke-width="0.85"/>
<rect x="633.90" y="149.30" width="6.2" height="6.2" fill="#fff" stroke="#21a073" stroke-width="0.85"/>
<rect x="641.10" y="159.20" width="6.2" height="6.2" fill="#fff" stroke="#21a073" stroke-width="0.85"/>
<rect x="648.40" y="167.10" width="6.2" height="6.2" fill="#fff" stroke="#21a073" stroke-width="0.85"/>
<path d="M479.20,57.70 L486.58,57.60 L493.96,60.00 L501.34,62.30 L508.72,66.30 L516.10,70.50 L523.48,74.60 L530.86,78.80 L538.24,83.20 L545.62,87.40 L553.00,92.10 L560.38,96.50 L567.76,101.00 L575.14,105.70 L582.52,110.60 L589.90,115.60 L597.28,120.90 L600.80,123.20 L607.80,127.40 L614.80,132.50 L622.10,137.80 L629.50,142.10 L637.00,146.50 L644.20,149.90 L651.50,150.40" fill="none" stroke="#e4712a" stroke-width="1.6"/>
<circle cx="479.20" cy="57.70" r="3.5" fill="#fff" stroke="#e4712a" stroke-width="0.85"/>
<circle cx="486.58" cy="57.60" r="3.5" fill="#fff" stroke="#e4712a" stroke-width="0.85"/>
<circle cx="493.96" cy="60.00" r="3.5" fill="#fff" stroke="#e4712a" stroke-width="0.85"/>
<circle cx="501.34" cy="62.30" r="3.5" fill="#fff" stroke="#e4712a" stroke-width="0.85"/>
<circle cx="508.72" cy="66.30" r="3.5" fill="#fff" stroke="#e4712a" stroke-width="0.85"/>
<circle cx="516.10" cy="70.50" r="3.5" fill="#fff" stroke="#e4712a" stroke-width="0.85"/>
<circle cx="523.48" cy="74.60" r="3.5" fill="#fff" stroke="#e4712a" stroke-width="0.85"/>
<circle cx="530.86" cy="78.80" r="3.5" fill="#fff" stroke="#e4712a" stroke-width="0.85"/>
<circle cx="538.24" cy="83.20" r="3.5" fill="#fff" stroke="#e4712a" stroke-width="0.85"/>
<circle cx="545.62" cy="87.40" r="3.5" fill="#fff" stroke="#e4712a" stroke-width="0.85"/>
<circle cx="553.00" cy="92.10" r="3.5" fill="#fff" stroke="#e4712a" stroke-width="0.85"/>
<circle cx="560.38" cy="96.50" r="3.5" fill="#fff" stroke="#e4712a" stroke-width="0.85"/>
<circle cx="567.76" cy="101.00" r="3.5" fill="#fff" stroke="#e4712a" stroke-width="0.85"/>
<circle cx="575.14" cy="105.70" r="3.5" fill="#fff" stroke="#e4712a" stroke-width="0.85"/>
<circle cx="582.52" cy="110.60" r="3.5" fill="#fff" stroke="#e4712a" stroke-width="0.85"/>
<circle cx="589.90" cy="115.60" r="3.5" fill="#fff" stroke="#e4712a" stroke-width="0.85"/>
<circle cx="597.28" cy="120.90" r="3.5" fill="#fff" stroke="#e4712a" stroke-width="0.85"/>
<circle cx="600.80" cy="123.20" r="3.5" fill="#fff" stroke="#e4712a" stroke-width="0.85"/>
<circle cx="607.80" cy="127.40" r="3.5" fill="#fff" stroke="#e4712a" stroke-width="0.85"/>
<circle cx="614.80" cy="132.50" r="3.5" fill="#fff" stroke="#e4712a" stroke-width="0.85"/>
<circle cx="622.10" cy="137.80" r="3.5" fill="#fff" stroke="#e4712a" stroke-width="0.85"/>
<circle cx="629.50" cy="142.10" r="3.5" fill="#fff" stroke="#e4712a" stroke-width="0.85"/>
<circle cx="637.00" cy="146.50" r="3.5" fill="#fff" stroke="#e4712a" stroke-width="0.85"/>
<circle cx="644.20" cy="149.90" r="3.5" fill="#fff" stroke="#e4712a" stroke-width="0.85"/>
<circle cx="651.50" cy="150.40" r="3.5" fill="#fff" stroke="#e4712a" stroke-width="0.85"/>
<path d="M479.20,39.70 L486.58,57.60 L493.96,59.10 L501.34,61.10 L508.72,65.00 L516.10,69.10 L523.48,72.20 L530.86,75.70 L538.24,79.30 L545.62,83.40 L553.00,87.30 L560.38,90.90 L567.76,94.90 L575.14,99.30 L582.52,103.60 L589.90,108.50 L597.28,113.10 L600.80,118.40 L607.80,120.40 L614.80,124.90 L622.10,130.40 L629.50,136.20 L637.00,141.70 L644.20,146.50 L651.50,150.40" fill="none" stroke="#7671c6" stroke-width="1.6"/>
<polygon points="479.20,36.10 480.38,38.48 483.00,38.86 481.10,40.72 481.55,43.34 479.20,42.10 476.85,43.34 477.30,40.72 475.40,38.86 478.02,38.48" fill="#fff" stroke="#7671c6" stroke-width="0.8" stroke-linejoin="miter"/>
<polygon points="486.58,54.00 487.76,56.38 490.38,56.76 488.48,58.62 488.93,61.24 486.58,60.00 484.23,61.24 484.68,58.62 482.78,56.76 485.40,56.38" fill="#fff" stroke="#7671c6" stroke-width="0.8" stroke-linejoin="miter"/>
<polygon points="493.96,55.50 495.14,57.88 497.76,58.26 495.86,60.12 496.31,62.74 493.96,61.50 491.61,62.74 492.06,60.12 490.16,58.26 492.78,57.88" fill="#fff" stroke="#7671c6" stroke-width="0.8" stroke-linejoin="miter"/>
<polygon points="501.34,57.50 502.52,59.88 505.14,60.26 503.24,62.12 503.69,64.74 501.34,63.50 498.99,64.74 499.44,62.12 497.54,60.26 500.16,59.88" fill="#fff" stroke="#7671c6" stroke-width="0.8" stroke-linejoin="miter"/>
<polygon points="508.72,61.40 509.90,63.78 512.52,64.16 510.62,66.02 511.07,68.64 508.72,67.40 506.37,68.64 506.82,66.02 504.92,64.16 507.54,63.78" fill="#fff" stroke="#7671c6" stroke-width="0.8" stroke-linejoin="miter"/>
<polygon points="516.10,65.50 517.28,67.88 519.90,68.26 518.00,70.12 518.45,72.74 516.10,71.50 513.75,72.74 514.20,70.12 512.30,68.26 514.92,67.88" fill="#fff" stroke="#7671c6" stroke-width="0.8" stroke-linejoin="miter"/>
<polygon points="523.48,68.60 524.66,70.98 527.28,71.36 525.38,73.22 525.83,75.84 523.48,74.60 521.13,75.84 521.58,73.22 519.68,71.36 522.30,70.98" fill="#fff" stroke="#7671c6" stroke-width="0.8" stroke-linejoin="miter"/>
<polygon points="530.86,72.10 532.04,74.48 534.66,74.86 532.76,76.72 533.21,79.34 530.86,78.10 528.51,79.34 528.96,76.72 527.06,74.86 529.68,74.48" fill="#fff" stroke="#7671c6" stroke-width="0.8" stroke-linejoin="miter"/>
<polygon points="538.24,75.70 539.42,78.08 542.04,78.46 540.14,80.32 540.59,82.94 538.24,81.70 535.89,82.94 536.34,80.32 534.44,78.46 537.06,78.08" fill="#fff" stroke="#7671c6" stroke-width="0.8" stroke-linejoin="miter"/>
<polygon points="545.62,79.80 546.80,82.18 549.42,82.56 547.52,84.42 547.97,87.04 545.62,85.80 543.27,87.04 543.72,84.42 541.82,82.56 544.44,82.18" fill="#fff" stroke="#7671c6" stroke-width="0.8" stroke-linejoin="miter"/>
<polygon points="553.00,83.70 554.18,86.08 556.80,86.46 554.90,88.32 555.35,90.94 553.00,89.70 550.65,90.94 551.10,88.32 549.20,86.46 551.82,86.08" fill="#fff" stroke="#7671c6" stroke-width="0.8" stroke-linejoin="miter"/>
<polygon points="560.38,87.30 561.56,89.68 564.18,90.06 562.28,91.92 562.73,94.54 560.38,93.30 558.03,94.54 558.48,91.92 556.58,90.06 559.20,89.68" fill="#fff" stroke="#7671c6" stroke-width="0.8" stroke-linejoin="miter"/>
<polygon points="567.76,91.30 568.94,93.68 571.56,94.06 569.66,95.92 570.11,98.54 567.76,97.30 565.41,98.54 565.86,95.92 563.96,94.06 566.58,93.68" fill="#fff" stroke="#7671c6" stroke-width="0.8" stroke-linejoin="miter"/>
<polygon points="575.14,95.70 576.32,98.08 578.94,98.46 577.04,100.32 577.49,102.94 575.14,101.70 572.79,102.94 573.24,100.32 571.34,98.46 573.96,98.08" fill="#fff" stroke="#7671c6" stroke-width="0.8" stroke-linejoin="miter"/>
<polygon points="582.52,100.00 583.70,102.38 586.32,102.76 584.42,104.62 584.87,107.24 582.52,106.00 580.17,107.24 580.62,104.62 578.72,102.76 581.34,102.38" fill="#fff" stroke="#7671c6" stroke-width="0.8" stroke-linejoin="miter"/>
<polygon points="589.90,104.90 591.08,107.28 593.70,107.66 591.80,109.52 592.25,112.14 589.90,110.90 587.55,112.14 588.00,109.52 586.10,107.66 588.72,107.28" fill="#fff" stroke="#7671c6" stroke-width="0.8" stroke-linejoin="miter"/>
<polygon points="597.28,109.50 598.46,111.88 601.08,112.26 599.18,114.12 599.63,116.74 597.28,115.50 594.93,116.74 595.38,114.12 593.48,112.26 596.10,111.88" fill="#fff" stroke="#7671c6" stroke-width="0.8" stroke-linejoin="miter"/>
<polygon points="600.80,114.80 601.98,117.18 604.60,117.56 602.70,119.42 603.15,122.04 600.80,120.80 598.45,122.04 598.90,119.42 597.00,117.56 599.62,117.18" fill="#fff" stroke="#7671c6" stroke-width="0.8" stroke-linejoin="miter"/>
<polygon points="607.80,116.80 608.98,119.18 611.60,119.56 609.70,121.42 610.15,124.04 607.80,122.80 605.45,124.04 605.90,121.42 604.00,119.56 606.62,119.18" fill="#fff" stroke="#7671c6" stroke-width="0.8" stroke-linejoin="miter"/>
<polygon points="614.80,121.30 615.98,123.68 618.60,124.06 616.70,125.92 617.15,128.54 614.80,127.30 612.45,128.54 612.90,125.92 611.00,124.06 613.62,123.68" fill="#fff" stroke="#7671c6" stroke-width="0.8" stroke-linejoin="miter"/>
<polygon points="622.10,126.80 623.28,129.18 625.90,129.56 624.00,131.42 624.45,134.04 622.10,132.80 619.75,134.04 620.20,131.42 618.30,129.56 620.92,129.18" fill="#fff" stroke="#7671c6" stroke-width="0.8" stroke-linejoin="miter"/>
<polygon points="629.50,132.60 630.68,134.98 633.30,135.36 631.40,137.22 631.85,139.84 629.50,138.60 627.15,139.84 627.60,137.22 625.70,135.36 628.32,134.98" fill="#fff" stroke="#7671c6" stroke-width="0.8" stroke-linejoin="miter"/>
<polygon points="637.00,138.10 638.18,140.48 640.80,140.86 638.90,142.72 639.35,145.34 637.00,144.10 634.65,145.34 635.10,142.72 633.20,140.86 635.82,140.48" fill="#fff" stroke="#7671c6" stroke-width="0.8" stroke-linejoin="miter"/>
<polygon points="644.20,142.90 645.38,145.28 648.00,145.66 646.10,147.52 646.55,150.14 644.20,148.90 641.85,150.14 642.30,147.52 640.40,145.66 643.02,145.28" fill="#fff" stroke="#7671c6" stroke-width="0.8" stroke-linejoin="miter"/>
<polygon points="651.50,146.80 652.68,149.18 655.30,149.56 653.40,151.42 653.85,154.04 651.50,152.80 649.15,154.04 649.60,151.42 647.70,149.56 650.32,149.18" fill="#fff" stroke="#7671c6" stroke-width="0.8" stroke-linejoin="miter"/>
<line x1="471.60" y1="123.00" x2="499.60" y2="123.00" stroke="#21a073" stroke-width="1.6" />
<rect x="482.60" y="120.10" width="5.8" height="5.8" fill="#fff" stroke="#21a073" stroke-width="0.85"/>
<text x="505.30" y="127.10" font-size="11" text-anchor="start" fill="#1a1a1a"  stroke="#1a1a1a" stroke-width="0.22">107 W m<tspan font-size="7.2" dy="-2.7">&#8211;2</tspan></text>
<line x1="471.60" y1="140.75" x2="499.60" y2="140.75" stroke="#e4712a" stroke-width="1.6" />
<circle cx="485.60" cy="140.75" r="3.3" fill="#fff" stroke="#e4712a" stroke-width="0.85"/>
<text x="505.30" y="144.85" font-size="11" text-anchor="start" fill="#1a1a1a"  stroke="#1a1a1a" stroke-width="0.22">201 W m<tspan font-size="7.2" dy="-2.7">&#8211;2</tspan></text>
<line x1="471.60" y1="158.50" x2="499.60" y2="158.50" stroke="#7671c6" stroke-width="1.6" />
<polygon points="485.60,154.50 486.75,156.82 489.31,157.19 487.45,159.00 487.89,161.56 485.60,160.35 483.31,161.56 483.75,159.00 481.89,157.19 484.45,156.82" fill="#fff" stroke="#7671c6" stroke-width="0.8" stroke-linejoin="miter"/>
<text x="505.30" y="162.60" font-size="11" text-anchor="start" fill="#1a1a1a"  stroke="#1a1a1a" stroke-width="0.22">282 W m<tspan font-size="7.2" dy="-2.7">&#8211;2</tspan></text>
<rect x="454.80" y="244.90" width="221.20" height="178.10" fill="none" stroke="#000" stroke-width="2"/>
<line x1="474.92" y1="423.00" x2="474.92" y2="418.50" stroke="#000" stroke-width="1.6" />
<line x1="515.16" y1="423.00" x2="515.16" y2="418.50" stroke="#000" stroke-width="1.6" />
<line x1="555.40" y1="423.00" x2="555.40" y2="418.50" stroke="#000" stroke-width="1.6" />
<line x1="595.64" y1="423.00" x2="595.64" y2="418.50" stroke="#000" stroke-width="1.6" />
<line x1="635.88" y1="423.00" x2="635.88" y2="418.50" stroke="#000" stroke-width="1.6" />
<line x1="676.12" y1="423.00" x2="676.12" y2="418.50" stroke="#000" stroke-width="1.6" />
<line x1="495.04" y1="423.00" x2="495.04" y2="420.50" stroke="#000" stroke-width="1.6" />
<line x1="535.28" y1="423.00" x2="535.28" y2="420.50" stroke="#000" stroke-width="1.6" />
<line x1="575.52" y1="423.00" x2="575.52" y2="420.50" stroke="#000" stroke-width="1.6" />
<line x1="615.76" y1="423.00" x2="615.76" y2="420.50" stroke="#000" stroke-width="1.6" />
<line x1="656.00" y1="423.00" x2="656.00" y2="420.50" stroke="#000" stroke-width="1.6" />
<text x="474.92" y="437.00" font-size="11" text-anchor="middle" fill="#1a1a1a"  stroke="#1a1a1a" stroke-width="0.22">100</text>
<text x="515.16" y="437.00" font-size="11" text-anchor="middle" fill="#1a1a1a"  stroke="#1a1a1a" stroke-width="0.22">150</text>
<text x="555.40" y="437.00" font-size="11" text-anchor="middle" fill="#1a1a1a"  stroke="#1a1a1a" stroke-width="0.22">200</text>
<text x="595.64" y="437.00" font-size="11" text-anchor="middle" fill="#1a1a1a"  stroke="#1a1a1a" stroke-width="0.22">250</text>
<text x="635.88" y="437.00" font-size="11" text-anchor="middle" fill="#1a1a1a"  stroke="#1a1a1a" stroke-width="0.22">300</text>
<text x="676.12" y="437.00" font-size="11" text-anchor="middle" fill="#1a1a1a"  stroke="#1a1a1a" stroke-width="0.22">350</text>
<line x1="454.80" y1="422.80" x2="459.30" y2="422.80" stroke="#000" stroke-width="1.6" />
<line x1="454.80" y1="395.40" x2="459.30" y2="395.40" stroke="#000" stroke-width="1.6" />
<line x1="454.80" y1="368.00" x2="459.30" y2="368.00" stroke="#000" stroke-width="1.6" />
<line x1="454.80" y1="340.60" x2="459.30" y2="340.60" stroke="#000" stroke-width="1.6" />
<line x1="454.80" y1="313.20" x2="459.30" y2="313.20" stroke="#000" stroke-width="1.6" />
<line x1="454.80" y1="285.80" x2="459.30" y2="285.80" stroke="#000" stroke-width="1.6" />
<line x1="454.80" y1="258.40" x2="459.30" y2="258.40" stroke="#000" stroke-width="1.6" />
<line x1="454.80" y1="409.10" x2="457.30" y2="409.10" stroke="#000" stroke-width="1.6" />
<line x1="454.80" y1="381.70" x2="457.30" y2="381.70" stroke="#000" stroke-width="1.6" />
<line x1="454.80" y1="354.30" x2="457.30" y2="354.30" stroke="#000" stroke-width="1.6" />
<line x1="454.80" y1="326.90" x2="457.30" y2="326.90" stroke="#000" stroke-width="1.6" />
<line x1="454.80" y1="299.50" x2="457.30" y2="299.50" stroke="#000" stroke-width="1.6" />
<line x1="454.80" y1="272.10" x2="457.30" y2="272.10" stroke="#000" stroke-width="1.6" />
<text x="449.00" y="426.70" font-size="11" text-anchor="end" fill="#1a1a1a"  stroke="#1a1a1a" stroke-width="0.22">0.1</text>
<text x="449.00" y="399.30" font-size="11" text-anchor="end" fill="#1a1a1a"  stroke="#1a1a1a" stroke-width="0.22">0.2</text>
<text x="449.00" y="371.90" font-size="11" text-anchor="end" fill="#1a1a1a"  stroke="#1a1a1a" stroke-width="0.22">0.3</text>
<text x="449.00" y="344.50" font-size="11" text-anchor="end" fill="#1a1a1a"  stroke="#1a1a1a" stroke-width="0.22">0.4</text>
<text x="449.00" y="317.10" font-size="11" text-anchor="end" fill="#1a1a1a"  stroke="#1a1a1a" stroke-width="0.22">0.5</text>
<text x="449.00" y="289.70" font-size="11" text-anchor="end" fill="#1a1a1a"  stroke="#1a1a1a" stroke-width="0.22">0.6</text>
<text x="449.00" y="262.30" font-size="11" text-anchor="end" fill="#1a1a1a"  stroke="#1a1a1a" stroke-width="0.22">0.7</text>
<text x="565.50" y="454.70" font-size="11" text-anchor="middle" fill="#1a1a1a"  stroke="#1a1a1a" stroke-width="0.22">Intensity (W m<tspan font-size="7.2" dy="-2.7">&#8211;2</tspan><tspan dy="2.7">)</tspan></text>
<text x="0" y="0" font-size="11" text-anchor="middle" fill="#1a1a1a" transform="translate(424.30,334.30) rotate(-90)" stroke="#1a1a1a" stroke-width="0.22">Current (μA)</text>
<text x="407.6" y="247.5" font-size="16" font-weight="bold" fill="#000" stroke="#000" stroke-width="0.22">e</text>
<text x="462.40" y="263.60" font-size="11" text-anchor="start" fill="#1a1a1a"  stroke="#1a1a1a" stroke-width="0.22">Condition: vertical incidence</text>
<circle cx="475.10" cy="282.90" r="3.8" fill="url(#gE)"/>
<text x="491.60" y="286.60" font-size="11" text-anchor="start" fill="#1a1a1a"  stroke="#1a1a1a" stroke-width="0.22">Detector B</text>
<line x1="463.80" y1="298.00" x2="486.70" y2="298.00" stroke="#35a535" stroke-width="2.0" />
<text x="491.60" y="301.60" font-size="11" text-anchor="start" fill="#1a1a1a"  stroke="#1a1a1a" stroke-width="0.22">Linear fitting curve</text>
<circle cx="480.20" cy="400.00" r="3.8" fill="url(#gE)"/>
<circle cx="502.80" cy="385.70" r="3.8" fill="url(#gE)"/>
<circle cx="526.20" cy="374.70" r="3.8" fill="url(#gE)"/>
<circle cx="548.80" cy="358.20" r="3.8" fill="url(#gE)"/>
<circle cx="569.60" cy="338.80" r="3.8" fill="url(#gE)"/>
<circle cx="591.30" cy="323.10" r="3.8" fill="url(#gE)"/>
<circle cx="610.10" cy="309.10" r="3.8" fill="url(#gE)"/>
<circle cx="627.10" cy="290.10" r="3.8" fill="url(#gE)"/>
<circle cx="643.00" cy="275.70" r="3.8" fill="url(#gE)"/>
<circle cx="657.50" cy="262.00" r="3.8" fill="url(#gE)"/>
<line x1="480.50" y1="406.40" x2="657.50" y2="268.00" stroke="#35a535" stroke-width="2.1" />
<text x="0" y="0" font-size="11.3" fill="#35a535" transform="translate(616.2,329.0) rotate(-35)" stroke="#35a535" stroke-width="0.22"><tspan font-style="italic">k</tspan><tspan font-size="8" dy="2.4">B</tspan><tspan dy="-2.4">=2.31×10</tspan><tspan font-size="8" dy="-4">&#8722;3</tspan></text>
<rect x="454.80" y="484.80" width="221.20" height="177.80" fill="none" stroke="#000" stroke-width="2"/>
<line x1="474.92" y1="662.60" x2="474.92" y2="658.10" stroke="#000" stroke-width="1.6" />
<line x1="515.16" y1="662.60" x2="515.16" y2="658.10" stroke="#000" stroke-width="1.6" />
<line x1="555.40" y1="662.60" x2="555.40" y2="658.10" stroke="#000" stroke-width="1.6" />
<line x1="595.64" y1="662.60" x2="595.64" y2="658.10" stroke="#000" stroke-width="1.6" />
<line x1="635.88" y1="662.60" x2="635.88" y2="658.10" stroke="#000" stroke-width="1.6" />
<line x1="676.12" y1="662.60" x2="676.12" y2="658.10" stroke="#000" stroke-width="1.6" />
<line x1="495.04" y1="662.60" x2="495.04" y2="660.10" stroke="#000" stroke-width="1.6" />
<line x1="535.28" y1="662.60" x2="535.28" y2="660.10" stroke="#000" stroke-width="1.6" />
<line x1="575.52" y1="662.60" x2="575.52" y2="660.10" stroke="#000" stroke-width="1.6" />
<line x1="615.76" y1="662.60" x2="615.76" y2="660.10" stroke="#000" stroke-width="1.6" />
<line x1="656.00" y1="662.60" x2="656.00" y2="660.10" stroke="#000" stroke-width="1.6" />
<text x="474.92" y="676.40" font-size="11" text-anchor="middle" fill="#1a1a1a"  stroke="#1a1a1a" stroke-width="0.22">100</text>
<text x="515.16" y="676.40" font-size="11" text-anchor="middle" fill="#1a1a1a"  stroke="#1a1a1a" stroke-width="0.22">150</text>
<text x="555.40" y="676.40" font-size="11" text-anchor="middle" fill="#1a1a1a"  stroke="#1a1a1a" stroke-width="0.22">200</text>
<text x="595.64" y="676.40" font-size="11" text-anchor="middle" fill="#1a1a1a"  stroke="#1a1a1a" stroke-width="0.22">250</text>
<text x="635.88" y="676.40" font-size="11" text-anchor="middle" fill="#1a1a1a"  stroke="#1a1a1a" stroke-width="0.22">300</text>
<text x="676.12" y="676.40" font-size="11" text-anchor="middle" fill="#1a1a1a"  stroke="#1a1a1a" stroke-width="0.22">350</text>
<line x1="454.80" y1="642.80" x2="459.30" y2="642.80" stroke="#000" stroke-width="1.6" />
<line x1="454.80" y1="603.30" x2="459.30" y2="603.30" stroke="#000" stroke-width="1.6" />
<line x1="454.80" y1="563.80" x2="459.30" y2="563.80" stroke="#000" stroke-width="1.6" />
<line x1="454.80" y1="524.30" x2="459.30" y2="524.30" stroke="#000" stroke-width="1.6" />
<line x1="454.80" y1="484.80" x2="459.30" y2="484.80" stroke="#000" stroke-width="1.6" />
<line x1="454.80" y1="623.05" x2="457.30" y2="623.05" stroke="#000" stroke-width="1.6" />
<line x1="454.80" y1="583.55" x2="457.30" y2="583.55" stroke="#000" stroke-width="1.6" />
<line x1="454.80" y1="544.05" x2="457.30" y2="544.05" stroke="#000" stroke-width="1.6" />
<line x1="454.80" y1="504.55" x2="457.30" y2="504.55" stroke="#000" stroke-width="1.6" />
<line x1="454.80" y1="662.55" x2="457.30" y2="662.55" stroke="#000" stroke-width="1.6" />
<text x="449.00" y="646.70" font-size="11" text-anchor="end" fill="#1a1a1a"  stroke="#1a1a1a" stroke-width="0.22">0.02</text>
<text x="449.00" y="607.20" font-size="11" text-anchor="end" fill="#1a1a1a"  stroke="#1a1a1a" stroke-width="0.22">0.04</text>
<text x="449.00" y="567.70" font-size="11" text-anchor="end" fill="#1a1a1a"  stroke="#1a1a1a" stroke-width="0.22">0.06</text>
<text x="449.00" y="528.20" font-size="11" text-anchor="end" fill="#1a1a1a"  stroke="#1a1a1a" stroke-width="0.22">0.08</text>
<text x="449.00" y="488.70" font-size="11" text-anchor="end" fill="#1a1a1a"  stroke="#1a1a1a" stroke-width="0.22">0.10</text>
<text x="565.50" y="692.90" font-size="11" text-anchor="middle" fill="#1a1a1a"  stroke="#1a1a1a" stroke-width="0.22">Intensity (W m<tspan font-size="7.2" dy="-2.7">&#8211;2</tspan><tspan dy="2.7">)</tspan></text>
<text x="0" y="0" font-size="11" text-anchor="middle" fill="#1a1a1a" transform="translate(417.90,573.70) rotate(-90)" stroke="#1a1a1a" stroke-width="0.22">Current (μA)</text>
<text x="407.8" y="485.5" font-size="16" font-weight="bold" fill="#000" stroke="#000" stroke-width="0.22">f</text>
<text x="460.70" y="502.60" font-size="11" text-anchor="start" fill="#1a1a1a"  stroke="#1a1a1a" stroke-width="0.22">Condition: vertical incidence</text>
<circle cx="475.10" cy="519.40" r="3.8" fill="url(#gFA)"/>
<text x="494.70" y="522.70" font-size="11" text-anchor="start" fill="#1a1a1a"  stroke="#1a1a1a" stroke-width="0.22">Detector A</text>
<line x1="461.10" y1="535.40" x2="489.40" y2="535.40" stroke="#f7861a" stroke-width="2.0" />
<text x="494.70" y="538.60" font-size="11" text-anchor="start" fill="#1a1a1a"  stroke="#1a1a1a" stroke-width="0.22">Linear fitting curve</text>
<circle cx="548.90" cy="628.50" r="3.8" fill="url(#gFC)"/>
<text x="569.10" y="631.90" font-size="11" text-anchor="start" fill="#1a1a1a"  stroke="#1a1a1a" stroke-width="0.22">Detector C</text>
<line x1="534.90" y1="643.90" x2="562.70" y2="643.90" stroke="#2a78b8" stroke-width="2.0" />
<text x="569.10" y="647.20" font-size="11" text-anchor="start" fill="#1a1a1a"  stroke="#1a1a1a" stroke-width="0.22">Linear fitting curve</text>
<circle cx="480.20" cy="635.60" r="3.8" fill="url(#gFA)"/>
<circle cx="502.80" cy="622.50" r="3.8" fill="url(#gFA)"/>
<circle cx="526.20" cy="606.40" r="3.8" fill="url(#gFA)"/>
<circle cx="548.80" cy="594.60" r="3.8" fill="url(#gFA)"/>
<circle cx="569.60" cy="581.10" r="3.8" fill="url(#gFA)"/>
<circle cx="591.30" cy="567.10" r="3.8" fill="url(#gFA)"/>
<circle cx="610.10" cy="553.80" r="3.8" fill="url(#gFA)"/>
<circle cx="626.60" cy="537.70" r="3.8" fill="url(#gFA)"/>
<circle cx="643.00" cy="524.10" r="3.8" fill="url(#gFA)"/>
<circle cx="657.50" cy="510.40" r="3.8" fill="url(#gFA)"/>
<circle cx="480.20" cy="639.30" r="3.8" fill="url(#gFC)"/>
<circle cx="502.80" cy="625.70" r="3.8" fill="url(#gFC)"/>
<circle cx="526.20" cy="611.80" r="3.8" fill="url(#gFC)"/>
<circle cx="548.80" cy="598.70" r="3.8" fill="url(#gFC)"/>
<circle cx="569.60" cy="587.50" r="3.8" fill="url(#gFC)"/>
<circle cx="591.60" cy="574.70" r="3.8" fill="url(#gFC)"/>
<circle cx="610.10" cy="561.30" r="3.8" fill="url(#gFC)"/>
<circle cx="626.60" cy="549.80" r="3.8" fill="url(#gFC)"/>
<circle cx="643.00" cy="537.70" r="3.8" fill="url(#gFC)"/>
<circle cx="657.50" cy="525.20" r="3.8" fill="url(#gFC)"/>
<line x1="480.30" y1="641.00" x2="657.60" y2="530.10" stroke="#2a78b8" stroke-width="2.1" />
<line x1="480.30" y1="639.90" x2="657.60" y2="516.50" stroke="#f7861a" stroke-width="2.1" />
<text x="0" y="0" font-size="11.3" fill="#f7861a" transform="translate(512.3,606.0) rotate(-34)" stroke="#f7861a" stroke-width="0.22"><tspan font-style="italic">k</tspan><tspan font-size="8" dy="2.4">A</tspan><tspan dy="-2.4">=2.85×10</tspan><tspan font-size="8" dy="-4">&#8722;4</tspan></text>
<text x="0" y="0" font-size="11.3" fill="#2a78b8" transform="translate(607.5,586.5) rotate(-35)" stroke="#2a78b8" stroke-width="0.22"><tspan font-style="italic">k</tspan><tspan font-size="8" dy="2.4">C</tspan><tspan dy="-2.4">=2.57×10</tspan><tspan font-size="8" dy="-4">&#8722;4</tspan></text></svg>
</body></html>
